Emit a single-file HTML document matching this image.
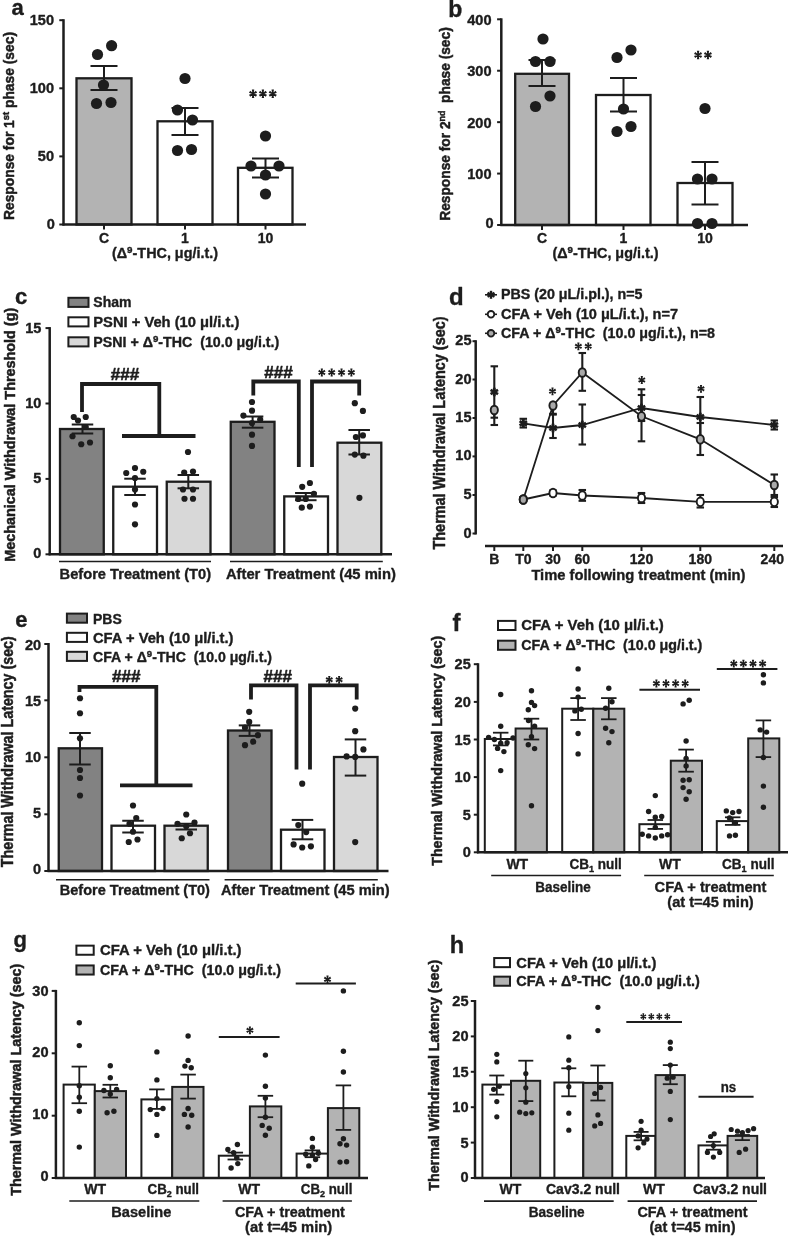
<!DOCTYPE html>
<html><head><meta charset="utf-8"><title>Figure</title>
<style>
html,body{margin:0;padding:0;background:#fff;}
svg{display:block;filter:grayscale(1);font-family:"Liberation Sans",sans-serif;fill:#1d1d1d;}
text{stroke:#1d1d1d;stroke-width:0.36px;stroke-linejoin:round;}
text.rt{stroke-width:0.5px;}
text.hs{stroke-width:0.6px;}
</style></head>
<body>
<svg width="788" height="1239" viewBox="0 0 788 1239">
<rect x="0" y="0" width="788" height="1239" fill="#ffffff"/>
<g>
<text x="11.5" y="14.5" font-size="22" text-anchor="start" font-weight="bold" >a</text>
<rect x="76.5" y="78.3" width="55.0" height="146.2" fill="#b1b3b6" stroke="#1d1d1d" stroke-width="2.3"/>
<rect x="157.5" y="121.3" width="55.0" height="103.2" fill="#fff" stroke="#1d1d1d" stroke-width="2.3"/>
<rect x="238" y="167.8" width="54.5" height="56.7" fill="#fff" stroke="#1d1d1d" stroke-width="2.3"/>
<line x1="63.5" y1="19.2" x2="63.5" y2="225.5" stroke="#1d1d1d" stroke-width="2.5" stroke-linecap="butt"/>
<line x1="62.5" y1="224.5" x2="306" y2="224.5" stroke="#1d1d1d" stroke-width="2.5" stroke-linecap="butt"/>
<line x1="59.3" y1="224.5" x2="63.5" y2="224.5" stroke="#1d1d1d" stroke-width="2" stroke-linecap="butt"/>
<text x="54.9" y="228.5" font-size="14" text-anchor="end" font-weight="bold" textLength="8.1" lengthAdjust="spacingAndGlyphs" >0</text>
<line x1="59.3" y1="156.4" x2="63.5" y2="156.4" stroke="#1d1d1d" stroke-width="2" stroke-linecap="butt"/>
<text x="54.0" y="161.4" font-size="14" text-anchor="end" font-weight="bold" textLength="16.2" lengthAdjust="spacingAndGlyphs" >50</text>
<line x1="59.3" y1="88.3" x2="63.5" y2="88.3" stroke="#1d1d1d" stroke-width="2" stroke-linecap="butt"/>
<text x="54.0" y="93.3" font-size="14" text-anchor="end" font-weight="bold" textLength="24.3" lengthAdjust="spacingAndGlyphs" >100</text>
<line x1="59.3" y1="20.2" x2="63.5" y2="20.2" stroke="#1d1d1d" stroke-width="2" stroke-linecap="butt"/>
<text x="54.0" y="25.2" font-size="14" text-anchor="end" font-weight="bold" textLength="24.3" lengthAdjust="spacingAndGlyphs" >150</text>
<line x1="104" y1="224.5" x2="104" y2="229.5" stroke="#1d1d1d" stroke-width="2" stroke-linecap="butt"/>
<text x="104" y="242.5" font-size="14" text-anchor="middle" font-weight="bold" >C</text>
<line x1="185" y1="224.5" x2="185" y2="229.5" stroke="#1d1d1d" stroke-width="2" stroke-linecap="butt"/>
<text x="185" y="242.5" font-size="14" text-anchor="middle" font-weight="bold" >1</text>
<line x1="265.5" y1="224.5" x2="265.5" y2="229.5" stroke="#1d1d1d" stroke-width="2" stroke-linecap="butt"/>
<text x="265.5" y="242.5" font-size="14" text-anchor="middle" font-weight="bold" >10</text>
<text x="165" y="258" font-size="14" text-anchor="middle" font-weight="bold" textLength="106" lengthAdjust="spacingAndGlyphs" >(Δ<tspan font-size="9.5" dy="-5">9</tspan><tspan dy="5">-THC, μg/i.t.)</tspan></text>
<text x="14.3" y="126" font-size="14" text-anchor="middle" font-weight="bold" class="rt" transform="rotate(-90 14.3 126)" textLength="188" lengthAdjust="spacingAndGlyphs" >Response for 1<tspan font-size="9.5" dy="-5">st</tspan><tspan dy="5"> phase (sec)</tspan></text>
<line x1="104" y1="66" x2="104" y2="90" stroke="#1d1d1d" stroke-width="2" stroke-linecap="butt"/>
<line x1="90.5" y1="66" x2="117.5" y2="66" stroke="#1d1d1d" stroke-width="2" stroke-linecap="butt"/>
<line x1="90.5" y1="90" x2="117.5" y2="90" stroke="#1d1d1d" stroke-width="2" stroke-linecap="butt"/>
<line x1="185" y1="108" x2="185" y2="135" stroke="#1d1d1d" stroke-width="2" stroke-linecap="butt"/>
<line x1="171.5" y1="108" x2="198.5" y2="108" stroke="#1d1d1d" stroke-width="2" stroke-linecap="butt"/>
<line x1="171.5" y1="135" x2="198.5" y2="135" stroke="#1d1d1d" stroke-width="2" stroke-linecap="butt"/>
<line x1="265.5" y1="158.5" x2="265.5" y2="177.5" stroke="#1d1d1d" stroke-width="2" stroke-linecap="butt"/>
<line x1="252.0" y1="158.5" x2="279.0" y2="158.5" stroke="#1d1d1d" stroke-width="2" stroke-linecap="butt"/>
<line x1="252.0" y1="177.5" x2="279.0" y2="177.5" stroke="#1d1d1d" stroke-width="2" stroke-linecap="butt"/>
<circle cx="97.5" cy="54.5" r="5.6" fill="#1d1d1d"/>
<circle cx="111.6" cy="45.7" r="5.6" fill="#1d1d1d"/>
<circle cx="103.5" cy="85" r="5.6" fill="#1d1d1d"/>
<circle cx="96.5" cy="103.5" r="5.6" fill="#1d1d1d"/>
<circle cx="111" cy="102.5" r="5.6" fill="#1d1d1d"/>
<circle cx="185" cy="78.5" r="5.6" fill="#1d1d1d"/>
<circle cx="177.5" cy="110" r="5.6" fill="#1d1d1d"/>
<circle cx="192.5" cy="120" r="5.6" fill="#1d1d1d"/>
<circle cx="177.5" cy="150.5" r="5.6" fill="#1d1d1d"/>
<circle cx="191.5" cy="149.5" r="5.6" fill="#1d1d1d"/>
<circle cx="265.5" cy="136" r="5.6" fill="#1d1d1d"/>
<circle cx="251" cy="166" r="5.6" fill="#1d1d1d"/>
<circle cx="279" cy="166" r="5.6" fill="#1d1d1d"/>
<circle cx="265.5" cy="175" r="5.6" fill="#1d1d1d"/>
<circle cx="265.5" cy="194" r="5.6" fill="#1d1d1d"/>
<path d="M252.5 93.8L251.85 98.05L254.25 98.05L253.6 93.8ZM253.6 93.8L254.25 89.55L251.85 89.55L252.5 93.8ZM252.78 94.28L255.91 96.84L257.11 94.76L253.33 93.32ZM252.78 93.32L248.99 94.76L250.19 96.84L253.33 94.28ZM253.33 93.32L250.19 90.76L248.99 92.84L252.78 94.28ZM253.33 94.28L257.11 92.84L255.91 90.76L252.78 93.32Z" fill="#1d1d1d"/>
<circle cx="253.05" cy="93.8" r="1.0" fill="#1d1d1d"/>
<path d="M262.35 93.8L261.7 98.05L264.1 98.05L263.45 93.8ZM263.45 93.8L264.1 89.55L261.7 89.55L262.35 93.8ZM262.62 94.28L265.76 96.84L266.96 94.76L263.17 93.32ZM262.62 93.32L258.84 94.76L260.04 96.84L263.17 94.28ZM263.17 93.32L260.04 90.76L258.84 92.84L262.62 94.28ZM263.17 94.28L266.96 92.84L265.76 90.76L262.62 93.32Z" fill="#1d1d1d"/>
<circle cx="262.9" cy="93.8" r="1.0" fill="#1d1d1d"/>
<path d="M272.2 93.8L271.55 98.05L273.95 98.05L273.3 93.8ZM273.3 93.8L273.95 89.55L271.55 89.55L272.2 93.8ZM272.48 94.28L275.61 96.84L276.81 94.76L273.02 93.32ZM272.48 93.32L268.69 94.76L269.89 96.84L273.02 94.28ZM273.02 93.32L269.89 90.76L268.69 92.84L272.48 94.28ZM273.02 94.28L276.81 92.84L275.61 90.76L272.48 93.32Z" fill="#1d1d1d"/>
<circle cx="272.75" cy="93.8" r="1.0" fill="#1d1d1d"/>
<text x="448.3" y="17" font-size="23" text-anchor="start" font-weight="bold" >b</text>
<rect x="515.2" y="73.8" width="53.8" height="151.2" fill="#b1b3b6" stroke="#1d1d1d" stroke-width="2.3"/>
<rect x="596" y="95" width="54.5" height="130" fill="#fff" stroke="#1d1d1d" stroke-width="2.3"/>
<rect x="677.5" y="183" width="55.0" height="42" fill="#fff" stroke="#1d1d1d" stroke-width="2.3"/>
<line x1="501.3" y1="18.3" x2="501.3" y2="226" stroke="#1d1d1d" stroke-width="2.5" stroke-linecap="butt"/>
<line x1="500.3" y1="225" x2="748" y2="225" stroke="#1d1d1d" stroke-width="2.5" stroke-linecap="butt"/>
<line x1="497.1" y1="225.0" x2="501.3" y2="225.0" stroke="#1d1d1d" stroke-width="2" stroke-linecap="butt"/>
<text x="493.7" y="227.7" font-size="14" text-anchor="end" font-weight="bold" textLength="8.1" lengthAdjust="spacingAndGlyphs" >0</text>
<line x1="497.1" y1="173.57" x2="501.3" y2="173.57" stroke="#1d1d1d" stroke-width="2" stroke-linecap="butt"/>
<text x="491.5" y="178.97" font-size="14" text-anchor="end" font-weight="bold" textLength="24.3" lengthAdjust="spacingAndGlyphs" >100</text>
<line x1="497.1" y1="122.15" x2="501.3" y2="122.15" stroke="#1d1d1d" stroke-width="2" stroke-linecap="butt"/>
<text x="491.5" y="127.55" font-size="14" text-anchor="end" font-weight="bold" textLength="24.3" lengthAdjust="spacingAndGlyphs" >200</text>
<line x1="497.1" y1="70.72" x2="501.3" y2="70.72" stroke="#1d1d1d" stroke-width="2" stroke-linecap="butt"/>
<text x="491.5" y="76.12" font-size="14" text-anchor="end" font-weight="bold" textLength="24.3" lengthAdjust="spacingAndGlyphs" >300</text>
<line x1="497.1" y1="19.3" x2="501.3" y2="19.3" stroke="#1d1d1d" stroke-width="2" stroke-linecap="butt"/>
<text x="491.5" y="24.7" font-size="14" text-anchor="end" font-weight="bold" textLength="24.3" lengthAdjust="spacingAndGlyphs" >400</text>
<line x1="542" y1="225" x2="542" y2="230" stroke="#1d1d1d" stroke-width="2" stroke-linecap="butt"/>
<text x="542" y="242.5" font-size="14" text-anchor="middle" font-weight="bold" >C</text>
<line x1="623.5" y1="225" x2="623.5" y2="230" stroke="#1d1d1d" stroke-width="2" stroke-linecap="butt"/>
<text x="623.5" y="242.5" font-size="14" text-anchor="middle" font-weight="bold" >1</text>
<line x1="705" y1="225" x2="705" y2="230" stroke="#1d1d1d" stroke-width="2" stroke-linecap="butt"/>
<text x="705" y="242.5" font-size="14" text-anchor="middle" font-weight="bold" >10</text>
<text x="605.5" y="258" font-size="14" text-anchor="middle" font-weight="bold" textLength="106" lengthAdjust="spacingAndGlyphs" >(Δ<tspan font-size="9.5" dy="-5">9</tspan><tspan dy="5">-THC, μg/i.t.)</tspan></text>
<text x="449.8" y="124" font-size="14.6" text-anchor="middle" font-weight="bold" class="rt" transform="rotate(-90 449.8 124)" textLength="193.5" lengthAdjust="spacingAndGlyphs" >Response for 2<tspan font-size="9.5" dy="-5">nd</tspan><tspan dy="5">  phase (sec)</tspan></text>
<line x1="542" y1="60" x2="542" y2="86" stroke="#1d1d1d" stroke-width="2" stroke-linecap="butt"/>
<line x1="528.5" y1="60" x2="555.5" y2="60" stroke="#1d1d1d" stroke-width="2" stroke-linecap="butt"/>
<line x1="528.5" y1="86" x2="555.5" y2="86" stroke="#1d1d1d" stroke-width="2" stroke-linecap="butt"/>
<line x1="623.5" y1="78" x2="623.5" y2="111.5" stroke="#1d1d1d" stroke-width="2" stroke-linecap="butt"/>
<line x1="610.0" y1="78" x2="637.0" y2="78" stroke="#1d1d1d" stroke-width="2" stroke-linecap="butt"/>
<line x1="610.0" y1="111.5" x2="637.0" y2="111.5" stroke="#1d1d1d" stroke-width="2" stroke-linecap="butt"/>
<line x1="705" y1="162" x2="705" y2="204.5" stroke="#1d1d1d" stroke-width="2" stroke-linecap="butt"/>
<line x1="691.5" y1="162" x2="718.5" y2="162" stroke="#1d1d1d" stroke-width="2" stroke-linecap="butt"/>
<line x1="691.5" y1="204.5" x2="718.5" y2="204.5" stroke="#1d1d1d" stroke-width="2" stroke-linecap="butt"/>
<circle cx="543" cy="39" r="5.6" fill="#1d1d1d"/>
<circle cx="535.5" cy="61.5" r="5.6" fill="#1d1d1d"/>
<circle cx="550" cy="61.5" r="5.6" fill="#1d1d1d"/>
<circle cx="550" cy="96" r="5.6" fill="#1d1d1d"/>
<circle cx="535.5" cy="106.5" r="5.6" fill="#1d1d1d"/>
<circle cx="631" cy="50" r="5.6" fill="#1d1d1d"/>
<circle cx="617" cy="57.5" r="5.6" fill="#1d1d1d"/>
<circle cx="623.5" cy="109" r="5.6" fill="#1d1d1d"/>
<circle cx="631" cy="126.5" r="5.6" fill="#1d1d1d"/>
<circle cx="617" cy="131.5" r="5.6" fill="#1d1d1d"/>
<circle cx="705" cy="108.5" r="5.6" fill="#1d1d1d"/>
<circle cx="697.5" cy="179" r="5.6" fill="#1d1d1d"/>
<circle cx="712" cy="179" r="5.6" fill="#1d1d1d"/>
<circle cx="697.5" cy="223.5" r="5.6" fill="#1d1d1d"/>
<circle cx="712" cy="223.5" r="5.6" fill="#1d1d1d"/>
<path d="M697.53 55.0L696.88 59.25L699.28 59.25L698.63 55.0ZM698.63 55.0L699.28 50.75L696.88 50.75L697.53 55.0ZM697.81 55.48L700.94 58.04L702.14 55.96L698.36 54.52ZM697.81 54.52L694.02 55.96L695.22 58.04L698.36 55.48ZM698.36 54.52L695.22 51.96L694.02 54.04L697.81 55.48ZM698.36 55.48L702.14 54.04L700.94 51.96L697.81 54.52Z" fill="#1d1d1d"/>
<circle cx="698.08" cy="55" r="1.0" fill="#1d1d1d"/>
<path d="M707.38 55.0L706.73 59.25L709.13 59.25L708.48 55.0ZM708.48 55.0L709.13 50.75L706.73 50.75L707.38 55.0ZM707.65 55.48L710.79 58.04L711.99 55.96L708.2 54.52ZM707.65 54.52L703.87 55.96L705.07 58.04L708.2 55.48ZM708.2 54.52L705.07 51.96L703.87 54.04L707.65 55.48ZM708.2 55.48L711.99 54.04L710.79 51.96L707.65 54.52Z" fill="#1d1d1d"/>
<circle cx="707.93" cy="55" r="1.0" fill="#1d1d1d"/>
<text x="15" y="304" font-size="22" text-anchor="start" font-weight="bold" >c</text>
<rect x="60" y="429" width="43.75" height="125.3" fill="#808285" stroke="#1d1d1d" stroke-width="2.3"/>
<rect x="113.25" y="486.7" width="43.75" height="67.6" fill="#fff" stroke="#1d1d1d" stroke-width="2.3"/>
<rect x="166.75" y="481.7" width="43.75" height="72.6" fill="#d7d8da" stroke="#1d1d1d" stroke-width="2.3"/>
<rect x="230.75" y="421.8" width="43.75" height="132.5" fill="#808285" stroke="#1d1d1d" stroke-width="2.3"/>
<rect x="284.25" y="496.4" width="43.75" height="57.9" fill="#fff" stroke="#1d1d1d" stroke-width="2.3"/>
<rect x="337.5" y="442.7" width="43.8" height="111.6" fill="#d7d8da" stroke="#1d1d1d" stroke-width="2.3"/>
<line x1="49.7" y1="327.1" x2="49.7" y2="555.3" stroke="#1d1d1d" stroke-width="2.5" stroke-linecap="butt"/>
<line x1="48.7" y1="554.3" x2="392" y2="554.3" stroke="#1d1d1d" stroke-width="2.5" stroke-linecap="butt"/>
<line x1="45.5" y1="554.3" x2="49.7" y2="554.3" stroke="#1d1d1d" stroke-width="2" stroke-linecap="butt"/>
<text x="41.4" y="558.1" font-size="14" text-anchor="end" font-weight="bold" textLength="8.1" lengthAdjust="spacingAndGlyphs" >0</text>
<line x1="45.5" y1="478.9" x2="49.7" y2="478.9" stroke="#1d1d1d" stroke-width="2" stroke-linecap="butt"/>
<text x="41.4" y="483.0" font-size="14" text-anchor="end" font-weight="bold" textLength="8.1" lengthAdjust="spacingAndGlyphs" >5</text>
<line x1="45.5" y1="403.5" x2="49.7" y2="403.5" stroke="#1d1d1d" stroke-width="2" stroke-linecap="butt"/>
<text x="41.4" y="407.9" font-size="14" text-anchor="end" font-weight="bold" textLength="16.2" lengthAdjust="spacingAndGlyphs" >10</text>
<line x1="45.5" y1="328.1" x2="49.7" y2="328.1" stroke="#1d1d1d" stroke-width="2" stroke-linecap="butt"/>
<text x="41.4" y="332.8" font-size="14" text-anchor="end" font-weight="bold" textLength="16.2" lengthAdjust="spacingAndGlyphs" >15</text>
<rect x="68.4" y="297.8" width="20.1" height="9.1" fill="#808285" stroke="#1d1d1d" stroke-width="2"/>
<text x="93.3" y="307" font-size="14" text-anchor="start" font-weight="bold" >Sham</text>
<rect x="68.4" y="317.3" width="20.1" height="9.1" fill="#fff" stroke="#1d1d1d" stroke-width="2"/>
<text x="93.3" y="326.5" font-size="14" text-anchor="start" font-weight="bold" textLength="146" lengthAdjust="spacingAndGlyphs" >PSNI + Veh (10 μl/i.t.)</text>
<rect x="68.4" y="337.3" width="20.1" height="9.1" fill="#d7d8da" stroke="#1d1d1d" stroke-width="2"/>
<text x="93.3" y="346.5" font-size="14" text-anchor="start" font-weight="bold" textLength="186" lengthAdjust="spacingAndGlyphs" >PSNI + Δ<tspan font-size="9.5" dy="-5">9</tspan><tspan dy="5">-THC  (10.0 μg/i.t.)</tspan></text>
<line x1="82.5" y1="424.5" x2="82.5" y2="433.5" stroke="#1d1d1d" stroke-width="2" stroke-linecap="butt"/>
<line x1="71.75" y1="424.5" x2="93.25" y2="424.5" stroke="#1d1d1d" stroke-width="2" stroke-linecap="butt"/>
<line x1="71.75" y1="433.5" x2="93.25" y2="433.5" stroke="#1d1d1d" stroke-width="2" stroke-linecap="butt"/>
<line x1="135" y1="478.7" x2="135" y2="495" stroke="#1d1d1d" stroke-width="2" stroke-linecap="butt"/>
<line x1="124.25" y1="478.7" x2="145.75" y2="478.7" stroke="#1d1d1d" stroke-width="2" stroke-linecap="butt"/>
<line x1="124.25" y1="495" x2="145.75" y2="495" stroke="#1d1d1d" stroke-width="2" stroke-linecap="butt"/>
<line x1="188.3" y1="475" x2="188.3" y2="488.3" stroke="#1d1d1d" stroke-width="2" stroke-linecap="butt"/>
<line x1="177.55" y1="475" x2="199.05" y2="475" stroke="#1d1d1d" stroke-width="2" stroke-linecap="butt"/>
<line x1="177.55" y1="488.3" x2="199.05" y2="488.3" stroke="#1d1d1d" stroke-width="2" stroke-linecap="butt"/>
<line x1="252.6" y1="416.5" x2="252.6" y2="427.7" stroke="#1d1d1d" stroke-width="2" stroke-linecap="butt"/>
<line x1="241.85" y1="416.5" x2="263.35" y2="416.5" stroke="#1d1d1d" stroke-width="2" stroke-linecap="butt"/>
<line x1="241.85" y1="427.7" x2="263.35" y2="427.7" stroke="#1d1d1d" stroke-width="2" stroke-linecap="butt"/>
<line x1="305.8" y1="493" x2="305.8" y2="500.2" stroke="#1d1d1d" stroke-width="2" stroke-linecap="butt"/>
<line x1="295.05" y1="493" x2="316.55" y2="493" stroke="#1d1d1d" stroke-width="2" stroke-linecap="butt"/>
<line x1="295.05" y1="500.2" x2="316.55" y2="500.2" stroke="#1d1d1d" stroke-width="2" stroke-linecap="butt"/>
<line x1="359.2" y1="430" x2="359.2" y2="454.5" stroke="#1d1d1d" stroke-width="2" stroke-linecap="butt"/>
<line x1="348.45" y1="430" x2="369.95" y2="430" stroke="#1d1d1d" stroke-width="2" stroke-linecap="butt"/>
<line x1="348.45" y1="454.5" x2="369.95" y2="454.5" stroke="#1d1d1d" stroke-width="2" stroke-linecap="butt"/>
<circle cx="73.75" cy="417" r="3.1" fill="#1d1d1d"/>
<circle cx="85.75" cy="417" r="3.1" fill="#1d1d1d"/>
<circle cx="78" cy="420.5" r="3.1" fill="#1d1d1d"/>
<circle cx="72.5" cy="436.25" r="3.1" fill="#1d1d1d"/>
<circle cx="85.75" cy="427" r="3.1" fill="#1d1d1d"/>
<circle cx="81.25" cy="444.25" r="3.1" fill="#1d1d1d"/>
<circle cx="90" cy="442.5" r="3.1" fill="#1d1d1d"/>
<circle cx="126.25" cy="473" r="3.1" fill="#1d1d1d"/>
<circle cx="135" cy="468" r="3.1" fill="#1d1d1d"/>
<circle cx="143.25" cy="471.75" r="3.1" fill="#1d1d1d"/>
<circle cx="135" cy="478" r="3.1" fill="#1d1d1d"/>
<circle cx="135" cy="489.5" r="3.1" fill="#1d1d1d"/>
<circle cx="135" cy="504.5" r="3.1" fill="#1d1d1d"/>
<circle cx="135" cy="524.3" r="3.1" fill="#1d1d1d"/>
<circle cx="188" cy="452" r="3.1" fill="#1d1d1d"/>
<circle cx="184.2" cy="472.5" r="3.1" fill="#1d1d1d"/>
<circle cx="193" cy="471.5" r="3.1" fill="#1d1d1d"/>
<circle cx="183" cy="489.5" r="3.1" fill="#1d1d1d"/>
<circle cx="193" cy="489.5" r="3.1" fill="#1d1d1d"/>
<circle cx="184.5" cy="498.75" r="3.1" fill="#1d1d1d"/>
<circle cx="193" cy="498.75" r="3.1" fill="#1d1d1d"/>
<circle cx="252" cy="402" r="3.1" fill="#1d1d1d"/>
<circle cx="252" cy="410.7" r="3.1" fill="#1d1d1d"/>
<circle cx="243.4" cy="415.6" r="3.1" fill="#1d1d1d"/>
<circle cx="260.2" cy="419.5" r="3.1" fill="#1d1d1d"/>
<circle cx="252" cy="423" r="3.1" fill="#1d1d1d"/>
<circle cx="252" cy="434.7" r="3.1" fill="#1d1d1d"/>
<circle cx="252" cy="445.9" r="3.1" fill="#1d1d1d"/>
<circle cx="302.2" cy="486.8" r="3.1" fill="#1d1d1d"/>
<circle cx="309.9" cy="483" r="3.1" fill="#1d1d1d"/>
<circle cx="313.9" cy="493.8" r="3.1" fill="#1d1d1d"/>
<circle cx="298.3" cy="498.9" r="3.1" fill="#1d1d1d"/>
<circle cx="305.7" cy="498.9" r="3.1" fill="#1d1d1d"/>
<circle cx="301.8" cy="507.6" r="3.1" fill="#1d1d1d"/>
<circle cx="309.9" cy="506.6" r="3.1" fill="#1d1d1d"/>
<circle cx="354.8" cy="403.2" r="3.1" fill="#1d1d1d"/>
<circle cx="362.9" cy="410.9" r="3.1" fill="#1d1d1d"/>
<circle cx="362.9" cy="435.4" r="3.1" fill="#1d1d1d"/>
<circle cx="355.9" cy="437" r="3.1" fill="#1d1d1d"/>
<circle cx="354.8" cy="454.6" r="3.1" fill="#1d1d1d"/>
<circle cx="363.4" cy="455.7" r="3.1" fill="#1d1d1d"/>
<circle cx="359.4" cy="497.8" r="3.1" fill="#1d1d1d"/>
<path d="M82 412 V384 H159.3 V436" fill="none" stroke="#1d1d1d" stroke-width="3.8" stroke-linejoin="miter" stroke-linecap="butt"/>
<line x1="122" y1="436" x2="195.5" y2="436" stroke="#1d1d1d" stroke-width="3.8" stroke-linecap="butt"/>
<path d="M253.3 395.5 V381.5 H298.8 V467" fill="none" stroke="#1d1d1d" stroke-width="3.8" stroke-linejoin="miter" stroke-linecap="butt"/>
<path d="M312 467 V381.5 H359.2 V395.5" fill="none" stroke="#1d1d1d" stroke-width="3.8" stroke-linejoin="miter" stroke-linecap="butt"/>
<text x="125" y="380" font-size="17" text-anchor="middle" font-weight="bold" textLength="28.5" lengthAdjust="spacingAndGlyphs" class="hs">###</text>
<text x="278.4" y="378" font-size="17" text-anchor="middle" font-weight="bold" textLength="28.5" lengthAdjust="spacingAndGlyphs" class="hs">###</text>
<path d="M321.32 372.5L320.73 376.41L322.93 376.41L322.34 372.5ZM322.34 372.5L322.93 368.59L320.73 368.59L321.32 372.5ZM321.58 372.94L324.46 375.3L325.57 373.38L322.08 372.06ZM321.58 372.06L318.09 373.38L319.2 375.3L322.08 372.94ZM322.08 372.06L319.2 369.7L318.09 371.62L321.58 372.94ZM322.08 372.94L325.57 371.62L324.46 369.7L321.58 372.06Z" fill="#1d1d1d"/>
<circle cx="321.83" cy="372.5" r="0.92" fill="#1d1d1d"/>
<path d="M331.17 372.5L330.58 376.41L332.78 376.41L332.19 372.5ZM332.19 372.5L332.78 368.59L330.58 368.59L331.17 372.5ZM331.43 372.94L334.31 375.3L335.42 373.38L331.93 372.06ZM331.43 372.06L327.94 373.38L329.05 375.3L331.93 372.94ZM331.93 372.06L329.05 369.7L327.94 371.62L331.43 372.94ZM331.93 372.94L335.42 371.62L334.31 369.7L331.43 372.06Z" fill="#1d1d1d"/>
<circle cx="331.68" cy="372.5" r="0.92" fill="#1d1d1d"/>
<path d="M341.02 372.5L340.43 376.41L342.63 376.41L342.04 372.5ZM342.04 372.5L342.63 368.59L340.43 368.59L341.02 372.5ZM341.28 372.94L344.16 375.3L345.27 373.38L341.78 372.06ZM341.28 372.06L337.79 373.38L338.9 375.3L341.78 372.94ZM341.78 372.06L338.9 369.7L337.79 371.62L341.28 372.94ZM341.78 372.94L345.27 371.62L344.16 369.7L341.28 372.06Z" fill="#1d1d1d"/>
<circle cx="341.53" cy="372.5" r="0.92" fill="#1d1d1d"/>
<path d="M350.87 372.5L350.28 376.41L352.48 376.41L351.89 372.5ZM351.89 372.5L352.48 368.59L350.28 368.59L350.87 372.5ZM351.13 372.94L354.01 375.3L355.12 373.38L351.63 372.06ZM351.13 372.06L347.64 373.38L348.75 375.3L351.63 372.94ZM351.63 372.06L348.75 369.7L347.64 371.62L351.13 372.94ZM351.63 372.94L355.12 371.62L354.01 369.7L351.13 372.06Z" fill="#1d1d1d"/>
<circle cx="351.38" cy="372.5" r="0.92" fill="#1d1d1d"/>
<text x="135.35" y="578.5" font-size="14.6" text-anchor="middle" font-weight="bold" textLength="151.5" lengthAdjust="spacingAndGlyphs" >Before Treatment (T0)</text>
<text x="310.9" y="578.5" font-size="14.6" text-anchor="middle" font-weight="bold" textLength="170" lengthAdjust="spacingAndGlyphs" >After Treatment (45 min)</text>
<line x1="59" y1="561.6" x2="211" y2="561.6" stroke="#1d1d1d" stroke-width="1.5" stroke-linecap="butt"/>
<line x1="230" y1="561.6" x2="382.8" y2="561.6" stroke="#1d1d1d" stroke-width="1.5" stroke-linecap="butt"/>
<text x="15" y="434.75" font-size="14" text-anchor="middle" font-weight="bold" class="rt" transform="rotate(-90 15 434.75)" textLength="254" lengthAdjust="spacingAndGlyphs" >Mechanical Withdrawal Threshold (g)</text>
<text x="449" y="305" font-size="24" text-anchor="start" font-weight="bold" >d</text>
<line x1="475.7" y1="340.2" x2="475.7" y2="534.5" stroke="#1d1d1d" stroke-width="2.5" stroke-linecap="butt"/>
<line x1="472.5" y1="533.5" x2="475.7" y2="533.5" stroke="#1d1d1d" stroke-width="2" stroke-linecap="butt"/>
<text x="471.5" y="537.5" font-size="14" text-anchor="end" font-weight="bold" textLength="8.1" lengthAdjust="spacingAndGlyphs" >0</text>
<line x1="472.5" y1="495" x2="475.7" y2="495" stroke="#1d1d1d" stroke-width="2" stroke-linecap="butt"/>
<text x="471.5" y="499" font-size="14" text-anchor="end" font-weight="bold" textLength="8.1" lengthAdjust="spacingAndGlyphs" >5</text>
<line x1="472.5" y1="456.4" x2="475.7" y2="456.4" stroke="#1d1d1d" stroke-width="2" stroke-linecap="butt"/>
<text x="471.5" y="460.4" font-size="14" text-anchor="end" font-weight="bold" textLength="16.2" lengthAdjust="spacingAndGlyphs" >10</text>
<line x1="472.5" y1="418" x2="475.7" y2="418" stroke="#1d1d1d" stroke-width="2" stroke-linecap="butt"/>
<text x="471.5" y="422" font-size="14" text-anchor="end" font-weight="bold" textLength="16.2" lengthAdjust="spacingAndGlyphs" >15</text>
<line x1="472.5" y1="379.5" x2="475.7" y2="379.5" stroke="#1d1d1d" stroke-width="2" stroke-linecap="butt"/>
<text x="471.5" y="383.5" font-size="14" text-anchor="end" font-weight="bold" textLength="16.2" lengthAdjust="spacingAndGlyphs" >20</text>
<line x1="472.5" y1="341.2" x2="475.7" y2="341.2" stroke="#1d1d1d" stroke-width="2" stroke-linecap="butt"/>
<text x="471.5" y="345.2" font-size="14" text-anchor="end" font-weight="bold" textLength="16.2" lengthAdjust="spacingAndGlyphs" >25</text>
<line x1="485" y1="546" x2="783" y2="546" stroke="#1d1d1d" stroke-width="2.5" stroke-linecap="butt"/>
<line x1="494.3" y1="546" x2="494.3" y2="551" stroke="#1d1d1d" stroke-width="2" stroke-linecap="butt"/>
<text x="494.3" y="563.5" font-size="14" text-anchor="middle" font-weight="bold" >B</text>
<line x1="523.3" y1="546" x2="523.3" y2="551" stroke="#1d1d1d" stroke-width="2" stroke-linecap="butt"/>
<text x="523.3" y="563.5" font-size="14" text-anchor="middle" font-weight="bold" >T0</text>
<line x1="553" y1="546" x2="553" y2="551" stroke="#1d1d1d" stroke-width="2" stroke-linecap="butt"/>
<text x="553" y="563.5" font-size="14" text-anchor="middle" font-weight="bold" >30</text>
<line x1="582.3" y1="546" x2="582.3" y2="551" stroke="#1d1d1d" stroke-width="2" stroke-linecap="butt"/>
<text x="582.3" y="563.5" font-size="14" text-anchor="middle" font-weight="bold" >60</text>
<line x1="641.5" y1="546" x2="641.5" y2="551" stroke="#1d1d1d" stroke-width="2" stroke-linecap="butt"/>
<text x="641.5" y="563.5" font-size="14" text-anchor="middle" font-weight="bold" >120</text>
<line x1="700.3" y1="546" x2="700.3" y2="551" stroke="#1d1d1d" stroke-width="2" stroke-linecap="butt"/>
<text x="700.3" y="563.5" font-size="14" text-anchor="middle" font-weight="bold" >180</text>
<line x1="774.3" y1="546" x2="774.3" y2="551" stroke="#1d1d1d" stroke-width="2" stroke-linecap="butt"/>
<text x="772.3" y="563.5" font-size="14" text-anchor="middle" font-weight="bold" >240</text>
<text x="638.4" y="580" font-size="14" text-anchor="middle" font-weight="bold" textLength="214" lengthAdjust="spacingAndGlyphs" >Time following treatment (min)</text>
<text x="444.5" y="433" font-size="16" text-anchor="middle" font-weight="bold" class="rt" transform="rotate(-90 444.5 433)" textLength="233" lengthAdjust="spacingAndGlyphs" >Thermal Withdrawal Latency (sec)</text>
<line x1="485" y1="294.8" x2="497" y2="294.8" stroke="#1d1d1d" stroke-width="1.6" stroke-linecap="butt"/>
<line x1="485" y1="314.3" x2="497" y2="314.3" stroke="#1d1d1d" stroke-width="1.6" stroke-linecap="butt"/>
<line x1="485" y1="333.3" x2="497" y2="333.3" stroke="#1d1d1d" stroke-width="1.6" stroke-linecap="butt"/>
<line x1="491.0" y1="290.8" x2="491.0" y2="298.8" stroke="#1d1d1d" stroke-width="2.4" stroke-linecap="butt"/>
<line x1="487.54" y1="292.8" x2="494.46" y2="296.8" stroke="#1d1d1d" stroke-width="2.4" stroke-linecap="butt"/>
<line x1="494.46" y1="292.8" x2="487.54" y2="296.8" stroke="#1d1d1d" stroke-width="2.4" stroke-linecap="butt"/>
<circle cx="491" cy="314.3" r="3.3" fill="#fff" stroke="#1d1d1d" stroke-width="1.8"/>
<circle cx="491" cy="333.3" r="3.3" fill="#a7a9ac" stroke="#1d1d1d" stroke-width="1.8"/>
<text x="501" y="299" font-size="14" text-anchor="start" font-weight="bold" textLength="141.5" lengthAdjust="spacingAndGlyphs" >PBS (20 μL/i.pl.), n=5</text>
<text x="501" y="319" font-size="14" text-anchor="start" font-weight="bold" textLength="177" lengthAdjust="spacingAndGlyphs" >CFA + Veh (10 μL/i.t.), n=7</text>
<text x="501" y="337.5" font-size="14" text-anchor="start" font-weight="bold" textLength="214" lengthAdjust="spacingAndGlyphs" >CFA + Δ<tspan font-size="9.5" dy="-5">9</tspan><tspan dy="5">-THC  (10.0 μg/i.t.), n=8</tspan></text>
<polyline points="523.3,423.3 553,428 582.3,425 641.5,408 700.3,417 774.3,425" fill="none" stroke="#1d1d1d" stroke-width="1.8"/>
<polyline points="523.3,499.5 553,493 582.3,495.5 641.5,498 700.3,501.8 774.3,501.8" fill="none" stroke="#1d1d1d" stroke-width="1.8"/>
<polyline points="523.3,499.5 553,405.5 582.3,372.5 641.5,416.3 700.3,439.3 774.3,485" fill="none" stroke="#1d1d1d" stroke-width="1.8"/>
<line x1="494.3" y1="366.3" x2="494.3" y2="425" stroke="#1d1d1d" stroke-width="2.1" stroke-linecap="butt"/>
<line x1="490.55" y1="366.3" x2="498.05" y2="366.3" stroke="#1d1d1d" stroke-width="2.1" stroke-linecap="butt"/>
<line x1="490.55" y1="425" x2="498.05" y2="425" stroke="#1d1d1d" stroke-width="2.1" stroke-linecap="butt"/>
<line x1="523.3" y1="418.8" x2="523.3" y2="427.5" stroke="#1d1d1d" stroke-width="2.1" stroke-linecap="butt"/>
<line x1="519.55" y1="418.8" x2="527.05" y2="418.8" stroke="#1d1d1d" stroke-width="2.1" stroke-linecap="butt"/>
<line x1="519.55" y1="427.5" x2="527.05" y2="427.5" stroke="#1d1d1d" stroke-width="2.1" stroke-linecap="butt"/>
<line x1="553" y1="413.8" x2="553" y2="438" stroke="#1d1d1d" stroke-width="2.1" stroke-linecap="butt"/>
<line x1="549.25" y1="413.8" x2="556.75" y2="413.8" stroke="#1d1d1d" stroke-width="2.1" stroke-linecap="butt"/>
<line x1="549.25" y1="438" x2="556.75" y2="438" stroke="#1d1d1d" stroke-width="2.1" stroke-linecap="butt"/>
<line x1="582.3" y1="404.5" x2="582.3" y2="444.5" stroke="#1d1d1d" stroke-width="2.1" stroke-linecap="butt"/>
<line x1="578.55" y1="404.5" x2="586.05" y2="404.5" stroke="#1d1d1d" stroke-width="2.1" stroke-linecap="butt"/>
<line x1="578.55" y1="444.5" x2="586.05" y2="444.5" stroke="#1d1d1d" stroke-width="2.1" stroke-linecap="butt"/>
<line x1="641.5" y1="395" x2="641.5" y2="421" stroke="#1d1d1d" stroke-width="2.1" stroke-linecap="butt"/>
<line x1="637.75" y1="395" x2="645.25" y2="395" stroke="#1d1d1d" stroke-width="2.1" stroke-linecap="butt"/>
<line x1="637.75" y1="421" x2="645.25" y2="421" stroke="#1d1d1d" stroke-width="2.1" stroke-linecap="butt"/>
<line x1="700.3" y1="397" x2="700.3" y2="437" stroke="#1d1d1d" stroke-width="2.1" stroke-linecap="butt"/>
<line x1="696.55" y1="397" x2="704.05" y2="397" stroke="#1d1d1d" stroke-width="2.1" stroke-linecap="butt"/>
<line x1="696.55" y1="437" x2="704.05" y2="437" stroke="#1d1d1d" stroke-width="2.1" stroke-linecap="butt"/>
<line x1="774.3" y1="420.5" x2="774.3" y2="429.5" stroke="#1d1d1d" stroke-width="2.1" stroke-linecap="butt"/>
<line x1="770.55" y1="420.5" x2="778.05" y2="420.5" stroke="#1d1d1d" stroke-width="2.1" stroke-linecap="butt"/>
<line x1="770.55" y1="429.5" x2="778.05" y2="429.5" stroke="#1d1d1d" stroke-width="2.1" stroke-linecap="butt"/>
<line x1="523.3" y1="497" x2="523.3" y2="502" stroke="#1d1d1d" stroke-width="2.1" stroke-linecap="butt"/>
<line x1="519.55" y1="497" x2="527.05" y2="497" stroke="#1d1d1d" stroke-width="2.1" stroke-linecap="butt"/>
<line x1="519.55" y1="502" x2="527.05" y2="502" stroke="#1d1d1d" stroke-width="2.1" stroke-linecap="butt"/>
<line x1="553" y1="490.5" x2="553" y2="495.5" stroke="#1d1d1d" stroke-width="2.1" stroke-linecap="butt"/>
<line x1="549.25" y1="490.5" x2="556.75" y2="490.5" stroke="#1d1d1d" stroke-width="2.1" stroke-linecap="butt"/>
<line x1="549.25" y1="495.5" x2="556.75" y2="495.5" stroke="#1d1d1d" stroke-width="2.1" stroke-linecap="butt"/>
<line x1="582.3" y1="490" x2="582.3" y2="500.8" stroke="#1d1d1d" stroke-width="2.1" stroke-linecap="butt"/>
<line x1="578.55" y1="490" x2="586.05" y2="490" stroke="#1d1d1d" stroke-width="2.1" stroke-linecap="butt"/>
<line x1="578.55" y1="500.8" x2="586.05" y2="500.8" stroke="#1d1d1d" stroke-width="2.1" stroke-linecap="butt"/>
<line x1="641.5" y1="493" x2="641.5" y2="503" stroke="#1d1d1d" stroke-width="2.1" stroke-linecap="butt"/>
<line x1="637.75" y1="493" x2="645.25" y2="493" stroke="#1d1d1d" stroke-width="2.1" stroke-linecap="butt"/>
<line x1="637.75" y1="503" x2="645.25" y2="503" stroke="#1d1d1d" stroke-width="2.1" stroke-linecap="butt"/>
<line x1="700.3" y1="495" x2="700.3" y2="507.5" stroke="#1d1d1d" stroke-width="2.1" stroke-linecap="butt"/>
<line x1="696.55" y1="495" x2="704.05" y2="495" stroke="#1d1d1d" stroke-width="2.1" stroke-linecap="butt"/>
<line x1="696.55" y1="507.5" x2="704.05" y2="507.5" stroke="#1d1d1d" stroke-width="2.1" stroke-linecap="butt"/>
<line x1="774.3" y1="497" x2="774.3" y2="507" stroke="#1d1d1d" stroke-width="2.1" stroke-linecap="butt"/>
<line x1="770.55" y1="497" x2="778.05" y2="497" stroke="#1d1d1d" stroke-width="2.1" stroke-linecap="butt"/>
<line x1="770.55" y1="507" x2="778.05" y2="507" stroke="#1d1d1d" stroke-width="2.1" stroke-linecap="butt"/>
<line x1="494.3" y1="410" x2="494.3" y2="417.7" stroke="#1d1d1d" stroke-width="2.1" stroke-linecap="butt"/>
<line x1="490.55" y1="410" x2="498.05" y2="410" stroke="#1d1d1d" stroke-width="2.1" stroke-linecap="butt"/>
<line x1="490.55" y1="417.7" x2="498.05" y2="417.7" stroke="#1d1d1d" stroke-width="2.1" stroke-linecap="butt"/>
<line x1="523.3" y1="497" x2="523.3" y2="502" stroke="#1d1d1d" stroke-width="2.1" stroke-linecap="butt"/>
<line x1="519.55" y1="497" x2="527.05" y2="497" stroke="#1d1d1d" stroke-width="2.1" stroke-linecap="butt"/>
<line x1="519.55" y1="502" x2="527.05" y2="502" stroke="#1d1d1d" stroke-width="2.1" stroke-linecap="butt"/>
<line x1="553" y1="405.5" x2="553" y2="414.6" stroke="#1d1d1d" stroke-width="2.1" stroke-linecap="butt"/>
<line x1="549.25" y1="405.5" x2="556.75" y2="405.5" stroke="#1d1d1d" stroke-width="2.1" stroke-linecap="butt"/>
<line x1="549.25" y1="414.6" x2="556.75" y2="414.6" stroke="#1d1d1d" stroke-width="2.1" stroke-linecap="butt"/>
<line x1="582.3" y1="353" x2="582.3" y2="390.8" stroke="#1d1d1d" stroke-width="2.1" stroke-linecap="butt"/>
<line x1="578.55" y1="353" x2="586.05" y2="353" stroke="#1d1d1d" stroke-width="2.1" stroke-linecap="butt"/>
<line x1="578.55" y1="390.8" x2="586.05" y2="390.8" stroke="#1d1d1d" stroke-width="2.1" stroke-linecap="butt"/>
<line x1="641.5" y1="389.3" x2="641.5" y2="441.3" stroke="#1d1d1d" stroke-width="2.1" stroke-linecap="butt"/>
<line x1="637.75" y1="389.3" x2="645.25" y2="389.3" stroke="#1d1d1d" stroke-width="2.1" stroke-linecap="butt"/>
<line x1="637.75" y1="441.3" x2="645.25" y2="441.3" stroke="#1d1d1d" stroke-width="2.1" stroke-linecap="butt"/>
<line x1="700.3" y1="423" x2="700.3" y2="455" stroke="#1d1d1d" stroke-width="2.1" stroke-linecap="butt"/>
<line x1="696.55" y1="423" x2="704.05" y2="423" stroke="#1d1d1d" stroke-width="2.1" stroke-linecap="butt"/>
<line x1="696.55" y1="455" x2="704.05" y2="455" stroke="#1d1d1d" stroke-width="2.1" stroke-linecap="butt"/>
<line x1="774.3" y1="474.5" x2="774.3" y2="495" stroke="#1d1d1d" stroke-width="2.1" stroke-linecap="butt"/>
<line x1="770.55" y1="474.5" x2="778.05" y2="474.5" stroke="#1d1d1d" stroke-width="2.1" stroke-linecap="butt"/>
<line x1="770.55" y1="495" x2="778.05" y2="495" stroke="#1d1d1d" stroke-width="2.1" stroke-linecap="butt"/>
<line x1="494.3" y1="387.7" x2="494.3" y2="396.3" stroke="#1d1d1d" stroke-width="2.8" stroke-linecap="butt"/>
<line x1="490.58" y1="389.85" x2="498.02" y2="394.15" stroke="#1d1d1d" stroke-width="2.8" stroke-linecap="butt"/>
<line x1="498.02" y1="389.85" x2="490.58" y2="394.15" stroke="#1d1d1d" stroke-width="2.8" stroke-linecap="butt"/>
<line x1="523.3" y1="419.0" x2="523.3" y2="427.6" stroke="#1d1d1d" stroke-width="2.8" stroke-linecap="butt"/>
<line x1="519.58" y1="421.15" x2="527.02" y2="425.45" stroke="#1d1d1d" stroke-width="2.8" stroke-linecap="butt"/>
<line x1="527.02" y1="421.15" x2="519.58" y2="425.45" stroke="#1d1d1d" stroke-width="2.8" stroke-linecap="butt"/>
<line x1="553.0" y1="423.7" x2="553.0" y2="432.3" stroke="#1d1d1d" stroke-width="2.8" stroke-linecap="butt"/>
<line x1="549.28" y1="425.85" x2="556.72" y2="430.15" stroke="#1d1d1d" stroke-width="2.8" stroke-linecap="butt"/>
<line x1="556.72" y1="425.85" x2="549.28" y2="430.15" stroke="#1d1d1d" stroke-width="2.8" stroke-linecap="butt"/>
<line x1="582.3" y1="420.7" x2="582.3" y2="429.3" stroke="#1d1d1d" stroke-width="2.8" stroke-linecap="butt"/>
<line x1="578.58" y1="422.85" x2="586.02" y2="427.15" stroke="#1d1d1d" stroke-width="2.8" stroke-linecap="butt"/>
<line x1="586.02" y1="422.85" x2="578.58" y2="427.15" stroke="#1d1d1d" stroke-width="2.8" stroke-linecap="butt"/>
<line x1="641.5" y1="403.7" x2="641.5" y2="412.3" stroke="#1d1d1d" stroke-width="2.8" stroke-linecap="butt"/>
<line x1="637.78" y1="405.85" x2="645.22" y2="410.15" stroke="#1d1d1d" stroke-width="2.8" stroke-linecap="butt"/>
<line x1="645.22" y1="405.85" x2="637.78" y2="410.15" stroke="#1d1d1d" stroke-width="2.8" stroke-linecap="butt"/>
<line x1="700.3" y1="412.7" x2="700.3" y2="421.3" stroke="#1d1d1d" stroke-width="2.8" stroke-linecap="butt"/>
<line x1="696.58" y1="414.85" x2="704.02" y2="419.15" stroke="#1d1d1d" stroke-width="2.8" stroke-linecap="butt"/>
<line x1="704.02" y1="414.85" x2="696.58" y2="419.15" stroke="#1d1d1d" stroke-width="2.8" stroke-linecap="butt"/>
<line x1="774.3" y1="420.7" x2="774.3" y2="429.3" stroke="#1d1d1d" stroke-width="2.8" stroke-linecap="butt"/>
<line x1="770.58" y1="422.85" x2="778.02" y2="427.15" stroke="#1d1d1d" stroke-width="2.8" stroke-linecap="butt"/>
<line x1="778.02" y1="422.85" x2="770.58" y2="427.15" stroke="#1d1d1d" stroke-width="2.8" stroke-linecap="butt"/>
<ellipse cx="523.3" cy="499.5" rx="3.6" ry="4.3" fill="#fff" stroke="#1d1d1d" stroke-width="1.9"/>
<ellipse cx="553" cy="493" rx="3.6" ry="4.3" fill="#fff" stroke="#1d1d1d" stroke-width="1.9"/>
<ellipse cx="582.3" cy="495.5" rx="3.6" ry="4.3" fill="#fff" stroke="#1d1d1d" stroke-width="1.9"/>
<ellipse cx="641.5" cy="498" rx="3.6" ry="4.3" fill="#fff" stroke="#1d1d1d" stroke-width="1.9"/>
<ellipse cx="700.3" cy="501.8" rx="3.6" ry="4.3" fill="#fff" stroke="#1d1d1d" stroke-width="1.9"/>
<ellipse cx="774.3" cy="501.8" rx="3.6" ry="4.3" fill="#fff" stroke="#1d1d1d" stroke-width="1.9"/>
<ellipse cx="494.3" cy="410" rx="3.6" ry="4.3" fill="#a7a9ac" stroke="#1d1d1d" stroke-width="1.9"/>
<ellipse cx="523.3" cy="499.5" rx="3.6" ry="4.3" fill="#a7a9ac" stroke="#1d1d1d" stroke-width="1.9"/>
<ellipse cx="553" cy="405.5" rx="3.6" ry="4.3" fill="#a7a9ac" stroke="#1d1d1d" stroke-width="1.9"/>
<ellipse cx="582.3" cy="372.5" rx="3.6" ry="4.3" fill="#a7a9ac" stroke="#1d1d1d" stroke-width="1.9"/>
<ellipse cx="641.5" cy="416.3" rx="3.6" ry="4.3" fill="#a7a9ac" stroke="#1d1d1d" stroke-width="1.9"/>
<ellipse cx="700.3" cy="439.3" rx="3.6" ry="4.3" fill="#a7a9ac" stroke="#1d1d1d" stroke-width="1.9"/>
<ellipse cx="774.3" cy="485" rx="3.6" ry="4.3" fill="#a7a9ac" stroke="#1d1d1d" stroke-width="1.9"/>
<path d="M551.99 391.3L551.4 395.21L553.6 395.21L553.01 391.3ZM553.01 391.3L553.6 387.39L551.4 387.39L551.99 391.3ZM552.25 391.74L555.13 394.1L556.24 392.18L552.75 390.86ZM552.25 390.86L548.76 392.18L549.87 394.1L552.75 391.74ZM552.75 390.86L549.87 388.5L548.76 390.42L552.25 391.74ZM552.75 391.74L556.24 390.42L555.13 388.5L552.25 390.86Z" fill="#1d1d1d"/>
<circle cx="552.5" cy="391.3" r="0.92" fill="#1d1d1d"/>
<path d="M577.87 346.3L577.28 350.21L579.48 350.21L578.89 346.3ZM578.89 346.3L579.48 342.39L577.28 342.39L577.87 346.3ZM578.13 346.74L581.01 349.1L582.12 347.18L578.63 345.86ZM578.13 345.86L574.64 347.18L575.75 349.1L578.63 346.74ZM578.63 345.86L575.75 343.5L574.64 345.42L578.13 346.74ZM578.63 346.74L582.12 345.42L581.01 343.5L578.13 345.86Z" fill="#1d1d1d"/>
<circle cx="578.38" cy="346.3" r="0.92" fill="#1d1d1d"/>
<path d="M587.72 346.3L587.13 350.21L589.33 350.21L588.74 346.3ZM588.74 346.3L589.33 342.39L587.13 342.39L587.72 346.3ZM587.98 346.74L590.86 349.1L591.97 347.18L588.48 345.86ZM587.98 345.86L584.49 347.18L585.6 349.1L588.48 346.74ZM588.48 345.86L585.6 343.5L584.49 345.42L587.98 346.74ZM588.48 346.74L591.97 345.42L590.86 343.5L587.98 345.86Z" fill="#1d1d1d"/>
<circle cx="588.23" cy="346.3" r="0.92" fill="#1d1d1d"/>
<path d="M641.29 380.0L640.7 383.91L642.9 383.91L642.31 380.0ZM642.31 380.0L642.9 376.09L640.7 376.09L641.29 380.0ZM641.55 380.44L644.43 382.8L645.54 380.88L642.05 379.56ZM641.55 379.56L638.06 380.88L639.17 382.8L642.05 380.44ZM642.05 379.56L639.17 377.2L638.06 379.12L641.55 380.44ZM642.05 380.44L645.54 379.12L644.43 377.2L641.55 379.56Z" fill="#1d1d1d"/>
<circle cx="641.8" cy="380" r="0.92" fill="#1d1d1d"/>
<path d="M700.49 388.8L699.9 392.71L702.1 392.71L701.51 388.8ZM701.51 388.8L702.1 384.89L699.9 384.89L700.49 388.8ZM700.75 389.24L703.63 391.6L704.74 389.68L701.25 388.36ZM700.75 388.36L697.26 389.68L698.37 391.6L701.25 389.24ZM701.25 388.36L698.37 386.0L697.26 387.92L700.75 389.24ZM701.25 389.24L704.74 387.92L703.63 386.0L700.75 388.36Z" fill="#1d1d1d"/>
<circle cx="701.0" cy="388.8" r="0.92" fill="#1d1d1d"/>
<text x="15.3" y="627" font-size="22" text-anchor="start" font-weight="bold" >e</text>
<rect x="58.75" y="748.3" width="43.25" height="122.7" fill="#808285" stroke="#1d1d1d" stroke-width="2.3"/>
<rect x="111.5" y="825.7" width="43.5" height="45.3" fill="#fff" stroke="#1d1d1d" stroke-width="2.3"/>
<rect x="164.5" y="825.7" width="43.25" height="45.3" fill="#d7d8da" stroke="#1d1d1d" stroke-width="2.3"/>
<rect x="228" y="730.5" width="43.5" height="140.5" fill="#808285" stroke="#1d1d1d" stroke-width="2.3"/>
<rect x="281" y="829.7" width="43.5" height="41.3" fill="#fff" stroke="#1d1d1d" stroke-width="2.3"/>
<rect x="334" y="757" width="43.5" height="114" fill="#d7d8da" stroke="#1d1d1d" stroke-width="2.3"/>
<line x1="48.5" y1="643" x2="48.5" y2="872" stroke="#1d1d1d" stroke-width="2.5" stroke-linecap="butt"/>
<line x1="47.5" y1="871" x2="388.5" y2="871" stroke="#1d1d1d" stroke-width="2.5" stroke-linecap="butt"/>
<line x1="44.3" y1="871" x2="48.5" y2="871" stroke="#1d1d1d" stroke-width="2" stroke-linecap="butt"/>
<text x="41.1" y="874.3" font-size="14" text-anchor="end" font-weight="bold" textLength="8.1" lengthAdjust="spacingAndGlyphs" >0</text>
<line x1="44.3" y1="814.3" x2="48.5" y2="814.3" stroke="#1d1d1d" stroke-width="2" stroke-linecap="butt"/>
<text x="41.1" y="818.3" font-size="14" text-anchor="end" font-weight="bold" textLength="8.1" lengthAdjust="spacingAndGlyphs" >5</text>
<line x1="44.3" y1="757.3" x2="48.5" y2="757.3" stroke="#1d1d1d" stroke-width="2" stroke-linecap="butt"/>
<text x="41.1" y="762.4" font-size="14" text-anchor="end" font-weight="bold" textLength="16.2" lengthAdjust="spacingAndGlyphs" >10</text>
<line x1="44.3" y1="700.3" x2="48.5" y2="700.3" stroke="#1d1d1d" stroke-width="2" stroke-linecap="butt"/>
<text x="41.1" y="706.4" font-size="14" text-anchor="end" font-weight="bold" textLength="16.2" lengthAdjust="spacingAndGlyphs" >15</text>
<line x1="44.3" y1="644" x2="48.5" y2="644" stroke="#1d1d1d" stroke-width="2" stroke-linecap="butt"/>
<text x="41.1" y="650.4" font-size="14" text-anchor="end" font-weight="bold" textLength="16.2" lengthAdjust="spacingAndGlyphs" >20</text>
<rect x="66.9" y="613.5999999999999" width="20.1" height="9.1" fill="#808285" stroke="#1d1d1d" stroke-width="2"/>
<text x="93.0" y="624" font-size="14" text-anchor="start" font-weight="bold" >PBS</text>
<rect x="66.9" y="632.8" width="20.1" height="9.1" fill="#fff" stroke="#1d1d1d" stroke-width="2"/>
<text x="93.0" y="643.2" font-size="14" text-anchor="start" font-weight="bold" textLength="140.5" lengthAdjust="spacingAndGlyphs" >CFA + Veh (10 μl/i.t.)</text>
<rect x="66.9" y="651.8" width="20.1" height="9.1" fill="#d7d8da" stroke="#1d1d1d" stroke-width="2"/>
<text x="93.0" y="662.2" font-size="14" text-anchor="start" font-weight="bold" textLength="179" lengthAdjust="spacingAndGlyphs" >CFA + Δ<tspan font-size="9.5" dy="-5">9</tspan><tspan dy="5">-THC  (10.0 μg/i.t.)</tspan></text>
<line x1="80" y1="733" x2="80" y2="764.5" stroke="#1d1d1d" stroke-width="2" stroke-linecap="butt"/>
<line x1="69.25" y1="733" x2="90.75" y2="733" stroke="#1d1d1d" stroke-width="2" stroke-linecap="butt"/>
<line x1="69.25" y1="764.5" x2="90.75" y2="764.5" stroke="#1d1d1d" stroke-width="2" stroke-linecap="butt"/>
<line x1="133" y1="820.75" x2="133" y2="832.5" stroke="#1d1d1d" stroke-width="2" stroke-linecap="butt"/>
<line x1="122.25" y1="820.75" x2="143.75" y2="820.75" stroke="#1d1d1d" stroke-width="2" stroke-linecap="butt"/>
<line x1="122.25" y1="832.5" x2="143.75" y2="832.5" stroke="#1d1d1d" stroke-width="2" stroke-linecap="butt"/>
<line x1="186.25" y1="823.75" x2="186.25" y2="829.5" stroke="#1d1d1d" stroke-width="2" stroke-linecap="butt"/>
<line x1="175.5" y1="823.75" x2="197.0" y2="823.75" stroke="#1d1d1d" stroke-width="2" stroke-linecap="butt"/>
<line x1="175.5" y1="829.5" x2="197.0" y2="829.5" stroke="#1d1d1d" stroke-width="2" stroke-linecap="butt"/>
<line x1="249.5" y1="725.4" x2="249.5" y2="735.9" stroke="#1d1d1d" stroke-width="2" stroke-linecap="butt"/>
<line x1="238.75" y1="725.4" x2="260.25" y2="725.4" stroke="#1d1d1d" stroke-width="2" stroke-linecap="butt"/>
<line x1="238.75" y1="735.9" x2="260.25" y2="735.9" stroke="#1d1d1d" stroke-width="2" stroke-linecap="butt"/>
<line x1="302.5" y1="819.9" x2="302.5" y2="839.3" stroke="#1d1d1d" stroke-width="2" stroke-linecap="butt"/>
<line x1="291.75" y1="819.9" x2="313.25" y2="819.9" stroke="#1d1d1d" stroke-width="2" stroke-linecap="butt"/>
<line x1="291.75" y1="839.3" x2="313.25" y2="839.3" stroke="#1d1d1d" stroke-width="2" stroke-linecap="butt"/>
<line x1="355.5" y1="739.4" x2="355.5" y2="775.6" stroke="#1d1d1d" stroke-width="2" stroke-linecap="butt"/>
<line x1="344.75" y1="739.4" x2="366.25" y2="739.4" stroke="#1d1d1d" stroke-width="2" stroke-linecap="butt"/>
<line x1="344.75" y1="775.6" x2="366.25" y2="775.6" stroke="#1d1d1d" stroke-width="2" stroke-linecap="butt"/>
<circle cx="80" cy="698.25" r="3.1" fill="#1d1d1d"/>
<circle cx="80" cy="713.25" r="3.1" fill="#1d1d1d"/>
<circle cx="80" cy="738.25" r="3.1" fill="#1d1d1d"/>
<circle cx="80" cy="770" r="3.1" fill="#1d1d1d"/>
<circle cx="80" cy="778" r="3.1" fill="#1d1d1d"/>
<circle cx="80" cy="795.5" r="3.1" fill="#1d1d1d"/>
<circle cx="133" cy="805.5" r="3.1" fill="#1d1d1d"/>
<circle cx="136.25" cy="818" r="3.1" fill="#1d1d1d"/>
<circle cx="129.5" cy="823.75" r="3.1" fill="#1d1d1d"/>
<circle cx="133" cy="831.75" r="3.1" fill="#1d1d1d"/>
<circle cx="128.75" cy="842" r="3.1" fill="#1d1d1d"/>
<circle cx="137.5" cy="839.5" r="3.1" fill="#1d1d1d"/>
<circle cx="186.25" cy="814.5" r="3.1" fill="#1d1d1d"/>
<circle cx="177.5" cy="823.75" r="3.1" fill="#1d1d1d"/>
<circle cx="194.5" cy="822.5" r="3.1" fill="#1d1d1d"/>
<circle cx="186.25" cy="826.25" r="3.1" fill="#1d1d1d"/>
<circle cx="190" cy="833.25" r="3.1" fill="#1d1d1d"/>
<circle cx="181.75" cy="838.25" r="3.1" fill="#1d1d1d"/>
<circle cx="249.2" cy="711.8" r="3.1" fill="#1d1d1d"/>
<circle cx="249.2" cy="721.9" r="3.1" fill="#1d1d1d"/>
<circle cx="245" cy="727.7" r="3.1" fill="#1d1d1d"/>
<circle cx="257.9" cy="735.2" r="3.1" fill="#1d1d1d"/>
<circle cx="253.2" cy="741.7" r="3.1" fill="#1d1d1d"/>
<circle cx="245" cy="745.2" r="3.1" fill="#1d1d1d"/>
<circle cx="302.2" cy="783.7" r="3.1" fill="#1d1d1d"/>
<circle cx="298.3" cy="825.1" r="3.1" fill="#1d1d1d"/>
<circle cx="306.2" cy="832.1" r="3.1" fill="#1d1d1d"/>
<circle cx="293.6" cy="844.4" r="3.1" fill="#1d1d1d"/>
<circle cx="302.2" cy="847.5" r="3.1" fill="#1d1d1d"/>
<circle cx="310.9" cy="846.3" r="3.1" fill="#1d1d1d"/>
<circle cx="355.2" cy="708.6" r="3.1" fill="#1d1d1d"/>
<circle cx="355.2" cy="731.2" r="3.1" fill="#1d1d1d"/>
<circle cx="363.4" cy="749.4" r="3.1" fill="#1d1d1d"/>
<circle cx="346.6" cy="756.4" r="3.1" fill="#1d1d1d"/>
<circle cx="355.2" cy="756.9" r="3.1" fill="#1d1d1d"/>
<circle cx="355.2" cy="842.1" r="3.1" fill="#1d1d1d"/>
<path d="M79.5 692 V686.8 H156.3 V785.3" fill="none" stroke="#1d1d1d" stroke-width="3.8" stroke-linejoin="miter" stroke-linecap="butt"/>
<line x1="120" y1="785.3" x2="192.5" y2="785.3" stroke="#1d1d1d" stroke-width="3.8" stroke-linecap="butt"/>
<path d="M251 699.5 V685.3 H296.5 V769.5" fill="none" stroke="#1d1d1d" stroke-width="3.8" stroke-linejoin="miter" stroke-linecap="butt"/>
<path d="M310 769.5 V685.3 H356.7 V699.5" fill="none" stroke="#1d1d1d" stroke-width="3.8" stroke-linejoin="miter" stroke-linecap="butt"/>
<text x="126.25" y="682" font-size="17" text-anchor="middle" font-weight="bold" textLength="28.5" lengthAdjust="spacingAndGlyphs" class="hs">###</text>
<text x="277.7" y="682" font-size="17" text-anchor="middle" font-weight="bold" textLength="28.5" lengthAdjust="spacingAndGlyphs" class="hs">###</text>
<path d="M328.76 679.8L328.17 683.71L330.37 683.71L329.78 679.8ZM329.78 679.8L330.37 675.89L328.17 675.89L328.76 679.8ZM329.02 680.24L331.9 682.6L333.01 680.68L329.52 679.36ZM329.02 679.36L325.53 680.68L326.64 682.6L329.52 680.24ZM329.52 679.36L326.64 677.0L325.53 678.92L329.02 680.24ZM329.52 680.24L333.01 678.92L331.9 677.0L329.02 679.36Z" fill="#1d1d1d"/>
<circle cx="329.27" cy="679.8" r="0.92" fill="#1d1d1d"/>
<path d="M338.61 679.8L338.02 683.71L340.22 683.71L339.63 679.8ZM339.63 679.8L340.22 675.89L338.02 675.89L338.61 679.8ZM338.87 680.24L341.75 682.6L342.86 680.68L339.37 679.36ZM338.87 679.36L335.38 680.68L336.49 682.6L339.37 680.24ZM339.37 679.36L336.49 677.0L335.38 678.92L338.87 680.24ZM339.37 680.24L342.86 678.92L341.75 677.0L338.87 679.36Z" fill="#1d1d1d"/>
<circle cx="339.12" cy="679.8" r="0.92" fill="#1d1d1d"/>
<text x="134.85" y="894.8" font-size="14.6" text-anchor="middle" font-weight="bold" textLength="150.2" lengthAdjust="spacingAndGlyphs" >Before Treatment (T0)</text>
<text x="305.3" y="894.8" font-size="14.6" text-anchor="middle" font-weight="bold" textLength="168.7" lengthAdjust="spacingAndGlyphs" >After Treatment (45 min)</text>
<line x1="56" y1="879.7" x2="209.5" y2="879.7" stroke="#1d1d1d" stroke-width="1.5" stroke-linecap="butt"/>
<line x1="224.6" y1="879.7" x2="377.8" y2="879.7" stroke="#1d1d1d" stroke-width="1.5" stroke-linecap="butt"/>
<text x="13.5" y="751.7" font-size="16" text-anchor="middle" font-weight="bold" class="rt" transform="rotate(-90 13.5 751.7)" textLength="231" lengthAdjust="spacingAndGlyphs" >Thermal Withdrawal Latency (sec)</text>
<text x="452.5" y="631" font-size="24" text-anchor="start" font-weight="bold" >f</text>
<rect x="484.8" y="739" width="30.8" height="113.3" fill="#fff" stroke="#1d1d1d" stroke-width="2"/>
<rect x="515.6" y="728.5" width="31.3" height="123.8" fill="#b1b3b6" stroke="#1d1d1d" stroke-width="2"/>
<rect x="562.2" y="708.7" width="31.1" height="143.6" fill="#fff" stroke="#1d1d1d" stroke-width="2"/>
<rect x="593.3" y="708.7" width="31.0" height="143.6" fill="#b1b3b6" stroke="#1d1d1d" stroke-width="2"/>
<rect x="639.4" y="824.2" width="31.4" height="28.1" fill="#fff" stroke="#1d1d1d" stroke-width="2"/>
<rect x="670.8" y="760.7" width="31.2" height="91.6" fill="#b1b3b6" stroke="#1d1d1d" stroke-width="2"/>
<rect x="716.8" y="821.1" width="31.4" height="31.2" fill="#fff" stroke="#1d1d1d" stroke-width="2"/>
<rect x="748.2" y="738.4" width="31.1" height="113.9" fill="#b1b3b6" stroke="#1d1d1d" stroke-width="2"/>
<line x1="478" y1="663.2" x2="478" y2="853.3" stroke="#1d1d1d" stroke-width="2.5" stroke-linecap="butt"/>
<line x1="477" y1="852.3" x2="788" y2="852.3" stroke="#1d1d1d" stroke-width="2.5" stroke-linecap="butt"/>
<line x1="473.8" y1="852.3" x2="478" y2="852.3" stroke="#1d1d1d" stroke-width="2" stroke-linecap="butt"/>
<text x="470.8" y="857.3" font-size="14" text-anchor="end" font-weight="bold" textLength="8.1" lengthAdjust="spacingAndGlyphs" >0</text>
<line x1="473.8" y1="814.7" x2="478" y2="814.7" stroke="#1d1d1d" stroke-width="2" stroke-linecap="butt"/>
<text x="470.8" y="819.7" font-size="14" text-anchor="end" font-weight="bold" textLength="8.1" lengthAdjust="spacingAndGlyphs" >5</text>
<line x1="473.8" y1="777.1" x2="478" y2="777.1" stroke="#1d1d1d" stroke-width="2" stroke-linecap="butt"/>
<text x="470.8" y="782.1" font-size="14" text-anchor="end" font-weight="bold" textLength="16.2" lengthAdjust="spacingAndGlyphs" >10</text>
<line x1="473.8" y1="739.5" x2="478" y2="739.5" stroke="#1d1d1d" stroke-width="2" stroke-linecap="butt"/>
<text x="470.8" y="744.5" font-size="14" text-anchor="end" font-weight="bold" textLength="16.2" lengthAdjust="spacingAndGlyphs" >15</text>
<line x1="473.8" y1="701.9" x2="478" y2="701.9" stroke="#1d1d1d" stroke-width="2" stroke-linecap="butt"/>
<text x="470.8" y="706.9" font-size="14" text-anchor="end" font-weight="bold" textLength="16.2" lengthAdjust="spacingAndGlyphs" >20</text>
<line x1="473.8" y1="664.2" x2="478" y2="664.2" stroke="#1d1d1d" stroke-width="2" stroke-linecap="butt"/>
<text x="470.8" y="669.2" font-size="14" text-anchor="end" font-weight="bold" textLength="16.2" lengthAdjust="spacingAndGlyphs" >25</text>
<rect x="498" y="620.9000000000001" width="17.5" height="9.1" fill="#fff" stroke="#1d1d1d" stroke-width="2"/>
<text x="521.3" y="630.1" font-size="14" text-anchor="start" font-weight="bold" textLength="142.5" lengthAdjust="spacingAndGlyphs" >CFA + Veh (10 μl/i.t.)</text>
<rect x="498" y="640.7" width="17.5" height="9.1" fill="#b1b3b6" stroke="#1d1d1d" stroke-width="2"/>
<text x="521.3" y="650.4" font-size="14" text-anchor="start" font-weight="bold" textLength="181" lengthAdjust="spacingAndGlyphs" >CFA + Δ<tspan font-size="9.5" dy="-5">9</tspan><tspan dy="5">-THC  (10.0 μg/i.t.)</tspan></text>
<line x1="500.7" y1="732.7" x2="500.7" y2="745.4" stroke="#1d1d1d" stroke-width="1.8" stroke-linecap="butt"/>
<line x1="492.95" y1="732.7" x2="508.45" y2="732.7" stroke="#1d1d1d" stroke-width="1.8" stroke-linecap="butt"/>
<line x1="492.95" y1="745.4" x2="508.45" y2="745.4" stroke="#1d1d1d" stroke-width="1.8" stroke-linecap="butt"/>
<line x1="531.5" y1="718.7" x2="531.5" y2="739.5" stroke="#1d1d1d" stroke-width="1.8" stroke-linecap="butt"/>
<line x1="523.75" y1="718.7" x2="539.25" y2="718.7" stroke="#1d1d1d" stroke-width="1.8" stroke-linecap="butt"/>
<line x1="523.75" y1="739.5" x2="539.25" y2="739.5" stroke="#1d1d1d" stroke-width="1.8" stroke-linecap="butt"/>
<line x1="578.1" y1="698.1" x2="578.1" y2="720" stroke="#1d1d1d" stroke-width="1.8" stroke-linecap="butt"/>
<line x1="570.35" y1="698.1" x2="585.85" y2="698.1" stroke="#1d1d1d" stroke-width="1.8" stroke-linecap="butt"/>
<line x1="570.35" y1="720" x2="585.85" y2="720" stroke="#1d1d1d" stroke-width="1.8" stroke-linecap="butt"/>
<line x1="608.8" y1="698.1" x2="608.8" y2="719.3" stroke="#1d1d1d" stroke-width="1.8" stroke-linecap="butt"/>
<line x1="601.05" y1="698.1" x2="616.55" y2="698.1" stroke="#1d1d1d" stroke-width="1.8" stroke-linecap="butt"/>
<line x1="601.05" y1="719.3" x2="616.55" y2="719.3" stroke="#1d1d1d" stroke-width="1.8" stroke-linecap="butt"/>
<line x1="655.3" y1="820" x2="655.3" y2="828.9" stroke="#1d1d1d" stroke-width="1.8" stroke-linecap="butt"/>
<line x1="647.55" y1="820" x2="663.05" y2="820" stroke="#1d1d1d" stroke-width="1.8" stroke-linecap="butt"/>
<line x1="647.55" y1="828.9" x2="663.05" y2="828.9" stroke="#1d1d1d" stroke-width="1.8" stroke-linecap="butt"/>
<line x1="686.1" y1="749.6" x2="686.1" y2="771.7" stroke="#1d1d1d" stroke-width="1.8" stroke-linecap="butt"/>
<line x1="678.35" y1="749.6" x2="693.85" y2="749.6" stroke="#1d1d1d" stroke-width="1.8" stroke-linecap="butt"/>
<line x1="678.35" y1="771.7" x2="693.85" y2="771.7" stroke="#1d1d1d" stroke-width="1.8" stroke-linecap="butt"/>
<line x1="732.7" y1="817.3" x2="732.7" y2="824.9" stroke="#1d1d1d" stroke-width="1.8" stroke-linecap="butt"/>
<line x1="724.95" y1="817.3" x2="740.45" y2="817.3" stroke="#1d1d1d" stroke-width="1.8" stroke-linecap="butt"/>
<line x1="724.95" y1="824.9" x2="740.45" y2="824.9" stroke="#1d1d1d" stroke-width="1.8" stroke-linecap="butt"/>
<line x1="763.4" y1="720.4" x2="763.4" y2="757.1" stroke="#1d1d1d" stroke-width="1.8" stroke-linecap="butt"/>
<line x1="755.65" y1="720.4" x2="771.15" y2="720.4" stroke="#1d1d1d" stroke-width="1.8" stroke-linecap="butt"/>
<line x1="755.65" y1="757.1" x2="771.15" y2="757.1" stroke="#1d1d1d" stroke-width="1.8" stroke-linecap="butt"/>
<circle cx="500.7" cy="694.5" r="2.7" fill="#1d1d1d"/>
<circle cx="500.7" cy="726.3" r="2.7" fill="#1d1d1d"/>
<circle cx="488.6" cy="737.4" r="2.7" fill="#1d1d1d"/>
<circle cx="513" cy="738" r="2.7" fill="#1d1d1d"/>
<circle cx="494.4" cy="739.5" r="2.7" fill="#1d1d1d"/>
<circle cx="500.7" cy="743.3" r="2.7" fill="#1d1d1d"/>
<circle cx="507.1" cy="742.7" r="2.7" fill="#1d1d1d"/>
<circle cx="497.6" cy="748.4" r="2.7" fill="#1d1d1d"/>
<circle cx="503.9" cy="751.6" r="2.7" fill="#1d1d1d"/>
<circle cx="500.7" cy="770.6" r="2.7" fill="#1d1d1d"/>
<circle cx="531.5" cy="690.7" r="2.7" fill="#1d1d1d"/>
<circle cx="528.5" cy="720.5" r="2.7" fill="#1d1d1d"/>
<circle cx="531.5" cy="702.4" r="2.7" fill="#1d1d1d"/>
<circle cx="534.6" cy="705.6" r="2.7" fill="#1d1d1d"/>
<circle cx="528.3" cy="709.8" r="2.7" fill="#1d1d1d"/>
<circle cx="534.6" cy="726.3" r="2.7" fill="#1d1d1d"/>
<circle cx="531.5" cy="736.7" r="2.7" fill="#1d1d1d"/>
<circle cx="528.3" cy="744.8" r="2.7" fill="#1d1d1d"/>
<circle cx="534.6" cy="748.6" r="2.7" fill="#1d1d1d"/>
<circle cx="531.5" cy="805.8" r="2.7" fill="#1d1d1d"/>
<circle cx="578.1" cy="668.9" r="2.7" fill="#1d1d1d"/>
<circle cx="578.1" cy="689" r="2.7" fill="#1d1d1d"/>
<circle cx="578.1" cy="697.1" r="2.7" fill="#1d1d1d"/>
<circle cx="574.9" cy="710.9" r="2.7" fill="#1d1d1d"/>
<circle cx="581.3" cy="709.2" r="2.7" fill="#1d1d1d"/>
<circle cx="578.1" cy="733.5" r="2.7" fill="#1d1d1d"/>
<circle cx="578.1" cy="753.9" r="2.7" fill="#1d1d1d"/>
<circle cx="608.8" cy="688.2" r="2.7" fill="#1d1d1d"/>
<circle cx="612" cy="701.7" r="2.7" fill="#1d1d1d"/>
<circle cx="605.6" cy="708.3" r="2.7" fill="#1d1d1d"/>
<circle cx="605.6" cy="728.2" r="2.7" fill="#1d1d1d"/>
<circle cx="612" cy="731.6" r="2.7" fill="#1d1d1d"/>
<circle cx="608.8" cy="742.7" r="2.7" fill="#1d1d1d"/>
<circle cx="655.3" cy="795.6" r="2.7" fill="#1d1d1d"/>
<circle cx="648.6" cy="811.5" r="2.7" fill="#1d1d1d"/>
<circle cx="655.3" cy="817.3" r="2.7" fill="#1d1d1d"/>
<circle cx="661.7" cy="816.4" r="2.7" fill="#1d1d1d"/>
<circle cx="642.2" cy="834.2" r="2.7" fill="#1d1d1d"/>
<circle cx="648.6" cy="835.9" r="2.7" fill="#1d1d1d"/>
<circle cx="655.3" cy="838" r="2.7" fill="#1d1d1d"/>
<circle cx="661.7" cy="835.9" r="2.7" fill="#1d1d1d"/>
<circle cx="667.6" cy="834.8" r="2.7" fill="#1d1d1d"/>
<circle cx="655.3" cy="827.4" r="2.7" fill="#1d1d1d"/>
<circle cx="683.1" cy="703.9" r="2.7" fill="#1d1d1d"/>
<circle cx="689.2" cy="700.3" r="2.7" fill="#1d1d1d"/>
<circle cx="686.1" cy="741" r="2.7" fill="#1d1d1d"/>
<circle cx="686.1" cy="758.5" r="2.7" fill="#1d1d1d"/>
<circle cx="686.1" cy="766" r="2.7" fill="#1d1d1d"/>
<circle cx="683.1" cy="780.2" r="2.7" fill="#1d1d1d"/>
<circle cx="689.2" cy="779.7" r="2.7" fill="#1d1d1d"/>
<circle cx="683.1" cy="787.6" r="2.7" fill="#1d1d1d"/>
<circle cx="689.2" cy="791.8" r="2.7" fill="#1d1d1d"/>
<circle cx="686.1" cy="799.2" r="2.7" fill="#1d1d1d"/>
<circle cx="726.3" cy="810.9" r="2.7" fill="#1d1d1d"/>
<circle cx="732.7" cy="812.6" r="2.7" fill="#1d1d1d"/>
<circle cx="739" cy="811.5" r="2.7" fill="#1d1d1d"/>
<circle cx="729.5" cy="817.9" r="2.7" fill="#1d1d1d"/>
<circle cx="735.4" cy="822.8" r="2.7" fill="#1d1d1d"/>
<circle cx="729.5" cy="835.9" r="2.7" fill="#1d1d1d"/>
<circle cx="735.4" cy="835.3" r="2.7" fill="#1d1d1d"/>
<circle cx="763.4" cy="674.8" r="2.7" fill="#1d1d1d"/>
<circle cx="763.4" cy="682.9" r="2.7" fill="#1d1d1d"/>
<circle cx="760.2" cy="729.9" r="2.7" fill="#1d1d1d"/>
<circle cx="766.6" cy="732.1" r="2.7" fill="#1d1d1d"/>
<circle cx="763.4" cy="757.5" r="2.7" fill="#1d1d1d"/>
<circle cx="763.4" cy="786.1" r="2.7" fill="#1d1d1d"/>
<circle cx="763.4" cy="807.3" r="2.7" fill="#1d1d1d"/>
<line x1="639.4" y1="689.7" x2="700" y2="689.7" stroke="#1d1d1d" stroke-width="2" stroke-linecap="butt"/>
<line x1="716.8" y1="668.9" x2="777.4" y2="668.9" stroke="#1d1d1d" stroke-width="2" stroke-linecap="butt"/>
<text x="517.3" y="868.5" font-size="14" text-anchor="middle" font-weight="bold" >WT</text>
<text x="595.6" y="868.5" font-size="14" text-anchor="middle" font-weight="bold" textLength="52.4" lengthAdjust="spacingAndGlyphs" >CB<tspan font-size="9.5" dy="3">1</tspan><tspan dy="-3"> null</tspan></text>
<text x="670" y="868.5" font-size="14" text-anchor="middle" font-weight="bold" >WT</text>
<text x="748.3" y="868.5" font-size="14" text-anchor="middle" font-weight="bold" textLength="52.4" lengthAdjust="spacingAndGlyphs" >CB<tspan font-size="9.5" dy="3">1</tspan><tspan dy="-3"> null</tspan></text>
<line x1="491.2" y1="875.5" x2="621.1" y2="875.5" stroke="#1d1d1d" stroke-width="1.7" stroke-linecap="butt"/>
<line x1="644.2" y1="875.5" x2="773.8" y2="875.5" stroke="#1d1d1d" stroke-width="1.7" stroke-linecap="butt"/>
<text x="563.1" y="891.8" font-size="14.6" text-anchor="middle" font-weight="bold" textLength="55.5" lengthAdjust="spacingAndGlyphs" >Baseline</text>
<text x="710.5" y="891.8" font-size="14.6" text-anchor="middle" font-weight="bold" >CFA + treatment</text>
<text x="710.5" y="906.8" font-size="14.6" text-anchor="middle" font-weight="bold" >(at t=45 min)</text>
<text x="442.5" y="750.8" font-size="14" text-anchor="middle" font-weight="bold" class="rt" transform="rotate(-90 442.5 750.8)" textLength="230" lengthAdjust="spacingAndGlyphs" >Thermal Withdrawal Latency (sec)</text>
<path d="M655.89 683.5L655.3 687.41L657.5 687.41L656.91 683.5ZM656.91 683.5L657.5 679.59L655.3 679.59L655.89 683.5ZM656.15 683.94L659.03 686.3L660.14 684.38L656.65 683.06ZM656.15 683.06L652.66 684.38L653.77 686.3L656.65 683.94ZM656.65 683.06L653.77 680.7L652.66 682.62L656.15 683.94ZM656.65 683.94L660.14 682.62L659.03 680.7L656.15 683.06Z" fill="#1d1d1d"/>
<circle cx="656.4" cy="683.5" r="0.92" fill="#1d1d1d"/>
<path d="M665.49 683.5L664.9 687.41L667.1 687.41L666.51 683.5ZM666.51 683.5L667.1 679.59L664.9 679.59L665.49 683.5ZM665.75 683.94L668.63 686.3L669.74 684.38L666.25 683.06ZM665.75 683.06L662.26 684.38L663.37 686.3L666.25 683.94ZM666.25 683.06L663.37 680.7L662.26 682.62L665.75 683.94ZM666.25 683.94L669.74 682.62L668.63 680.7L665.75 683.06Z" fill="#1d1d1d"/>
<circle cx="666.0" cy="683.5" r="0.92" fill="#1d1d1d"/>
<path d="M675.09 683.5L674.5 687.41L676.7 687.41L676.11 683.5ZM676.11 683.5L676.7 679.59L674.5 679.59L675.09 683.5ZM675.35 683.94L678.23 686.3L679.34 684.38L675.85 683.06ZM675.35 683.06L671.86 684.38L672.97 686.3L675.85 683.94ZM675.85 683.06L672.97 680.7L671.86 682.62L675.35 683.94ZM675.85 683.94L679.34 682.62L678.23 680.7L675.35 683.06Z" fill="#1d1d1d"/>
<circle cx="675.6" cy="683.5" r="0.92" fill="#1d1d1d"/>
<path d="M684.69 683.5L684.1 687.41L686.3 687.41L685.71 683.5ZM685.71 683.5L686.3 679.59L684.1 679.59L684.69 683.5ZM684.95 683.94L687.83 686.3L688.94 684.38L685.45 683.06ZM684.95 683.06L681.46 684.38L682.57 686.3L685.45 683.94ZM685.45 683.06L682.57 680.7L681.46 682.62L684.95 683.94ZM685.45 683.94L688.94 682.62L687.83 680.7L684.95 683.06Z" fill="#1d1d1d"/>
<circle cx="685.2" cy="683.5" r="0.92" fill="#1d1d1d"/>
<path d="M733.29 663.7L732.7 667.61L734.9 667.61L734.31 663.7ZM734.31 663.7L734.9 659.79L732.7 659.79L733.29 663.7ZM733.55 664.14L736.43 666.5L737.54 664.58L734.05 663.26ZM733.55 663.26L730.06 664.58L731.17 666.5L734.05 664.14ZM734.05 663.26L731.17 660.9L730.06 662.82L733.55 664.14ZM734.05 664.14L737.54 662.82L736.43 660.9L733.55 663.26Z" fill="#1d1d1d"/>
<circle cx="733.8" cy="663.7" r="0.92" fill="#1d1d1d"/>
<path d="M742.89 663.7L742.3 667.61L744.5 667.61L743.91 663.7ZM743.91 663.7L744.5 659.79L742.3 659.79L742.89 663.7ZM743.15 664.14L746.03 666.5L747.14 664.58L743.65 663.26ZM743.15 663.26L739.66 664.58L740.77 666.5L743.65 664.14ZM743.65 663.26L740.77 660.9L739.66 662.82L743.15 664.14ZM743.65 664.14L747.14 662.82L746.03 660.9L743.15 663.26Z" fill="#1d1d1d"/>
<circle cx="743.4" cy="663.7" r="0.92" fill="#1d1d1d"/>
<path d="M752.49 663.7L751.9 667.61L754.1 667.61L753.51 663.7ZM753.51 663.7L754.1 659.79L751.9 659.79L752.49 663.7ZM752.75 664.14L755.63 666.5L756.74 664.58L753.25 663.26ZM752.75 663.26L749.26 664.58L750.37 666.5L753.25 664.14ZM753.25 663.26L750.37 660.9L749.26 662.82L752.75 664.14ZM753.25 664.14L756.74 662.82L755.63 660.9L752.75 663.26Z" fill="#1d1d1d"/>
<circle cx="753.0" cy="663.7" r="0.92" fill="#1d1d1d"/>
<path d="M762.09 663.7L761.5 667.61L763.7 667.61L763.11 663.7ZM763.11 663.7L763.7 659.79L761.5 659.79L762.09 663.7ZM762.35 664.14L765.23 666.5L766.34 664.58L762.85 663.26ZM762.35 663.26L758.86 664.58L759.97 666.5L762.85 664.14ZM762.85 663.26L759.97 660.9L758.86 662.82L762.35 664.14ZM762.85 664.14L766.34 662.82L765.23 660.9L762.35 663.26Z" fill="#1d1d1d"/>
<circle cx="762.6" cy="663.7" r="0.92" fill="#1d1d1d"/>
<text x="13.5" y="946.7" font-size="22" text-anchor="start" font-weight="bold" >g</text>
<rect x="63.6" y="1084.6" width="31.2" height="93.4" fill="#fff" stroke="#1d1d1d" stroke-width="2"/>
<rect x="94.8" y="1091.1" width="31.2" height="86.9" fill="#b1b3b6" stroke="#1d1d1d" stroke-width="2"/>
<rect x="141.4" y="1099.4" width="30.8" height="78.6" fill="#fff" stroke="#1d1d1d" stroke-width="2"/>
<rect x="172.2" y="1086.9" width="31.3" height="91.1" fill="#b1b3b6" stroke="#1d1d1d" stroke-width="2"/>
<rect x="218.8" y="1155.7" width="31.1" height="22.3" fill="#fff" stroke="#1d1d1d" stroke-width="2"/>
<rect x="249.9" y="1106.4" width="31.4" height="71.6" fill="#b1b3b6" stroke="#1d1d1d" stroke-width="2"/>
<rect x="296.6" y="1153.6" width="31.3" height="24.4" fill="#fff" stroke="#1d1d1d" stroke-width="2"/>
<rect x="327.9" y="1108.1" width="31.4" height="69.9" fill="#b1b3b6" stroke="#1d1d1d" stroke-width="2"/>
<line x1="55.9" y1="989.9" x2="55.9" y2="1179" stroke="#1d1d1d" stroke-width="2.5" stroke-linecap="butt"/>
<line x1="54.9" y1="1178" x2="368" y2="1178" stroke="#1d1d1d" stroke-width="2.5" stroke-linecap="butt"/>
<line x1="51.699999999999996" y1="1178" x2="55.9" y2="1178" stroke="#1d1d1d" stroke-width="2" stroke-linecap="butt"/>
<text x="48.5" y="1181.1" font-size="14" text-anchor="end" font-weight="bold" textLength="8.1" lengthAdjust="spacingAndGlyphs" >0</text>
<line x1="51.699999999999996" y1="1115.7" x2="55.9" y2="1115.7" stroke="#1d1d1d" stroke-width="2" stroke-linecap="butt"/>
<text x="48.5" y="1119.3" font-size="14" text-anchor="end" font-weight="bold" textLength="16.2" lengthAdjust="spacingAndGlyphs" >10</text>
<line x1="51.699999999999996" y1="1053.3" x2="55.9" y2="1053.3" stroke="#1d1d1d" stroke-width="2" stroke-linecap="butt"/>
<text x="48.5" y="1057.4" font-size="14" text-anchor="end" font-weight="bold" textLength="16.2" lengthAdjust="spacingAndGlyphs" >20</text>
<line x1="51.699999999999996" y1="990.9" x2="55.9" y2="990.9" stroke="#1d1d1d" stroke-width="2" stroke-linecap="butt"/>
<text x="48.5" y="995.6" font-size="14" text-anchor="end" font-weight="bold" textLength="16.2" lengthAdjust="spacingAndGlyphs" >30</text>
<rect x="76.4" y="945.6500000000001" width="17.3" height="9.1" fill="#fff" stroke="#1d1d1d" stroke-width="2"/>
<text x="100" y="954.5" font-size="14" text-anchor="start" font-weight="bold" textLength="141.5" lengthAdjust="spacingAndGlyphs" >CFA + Veh (10 μl/i.t.)</text>
<rect x="76.4" y="965.45" width="17.3" height="9.1" fill="#b1b3b6" stroke="#1d1d1d" stroke-width="2"/>
<text x="100" y="975.3" font-size="14" text-anchor="start" font-weight="bold" textLength="181" lengthAdjust="spacingAndGlyphs" >CFA + Δ<tspan font-size="9.5" dy="-5">9</tspan><tspan dy="5">-THC  (10.0 μg/i.t.)</tspan></text>
<line x1="79.3" y1="1066.6" x2="79.3" y2="1103.2" stroke="#1d1d1d" stroke-width="1.8" stroke-linecap="butt"/>
<line x1="71.55" y1="1066.6" x2="87.05" y2="1066.6" stroke="#1d1d1d" stroke-width="1.8" stroke-linecap="butt"/>
<line x1="71.55" y1="1103.2" x2="87.05" y2="1103.2" stroke="#1d1d1d" stroke-width="1.8" stroke-linecap="butt"/>
<line x1="110.3" y1="1084.8" x2="110.3" y2="1097.5" stroke="#1d1d1d" stroke-width="1.8" stroke-linecap="butt"/>
<line x1="102.55" y1="1084.8" x2="118.05" y2="1084.8" stroke="#1d1d1d" stroke-width="1.8" stroke-linecap="butt"/>
<line x1="102.55" y1="1097.5" x2="118.05" y2="1097.5" stroke="#1d1d1d" stroke-width="1.8" stroke-linecap="butt"/>
<line x1="156.9" y1="1089.4" x2="156.9" y2="1108.9" stroke="#1d1d1d" stroke-width="1.8" stroke-linecap="butt"/>
<line x1="149.15" y1="1089.4" x2="164.65" y2="1089.4" stroke="#1d1d1d" stroke-width="1.8" stroke-linecap="butt"/>
<line x1="149.15" y1="1108.9" x2="164.65" y2="1108.9" stroke="#1d1d1d" stroke-width="1.8" stroke-linecap="butt"/>
<line x1="188.1" y1="1074.6" x2="188.1" y2="1098.6" stroke="#1d1d1d" stroke-width="1.8" stroke-linecap="butt"/>
<line x1="180.35" y1="1074.6" x2="195.85" y2="1074.6" stroke="#1d1d1d" stroke-width="1.8" stroke-linecap="butt"/>
<line x1="180.35" y1="1098.6" x2="195.85" y2="1098.6" stroke="#1d1d1d" stroke-width="1.8" stroke-linecap="butt"/>
<line x1="235.3" y1="1152.6" x2="235.3" y2="1159.5" stroke="#1d1d1d" stroke-width="1.8" stroke-linecap="butt"/>
<line x1="227.55" y1="1152.6" x2="243.05" y2="1152.6" stroke="#1d1d1d" stroke-width="1.8" stroke-linecap="butt"/>
<line x1="227.55" y1="1159.5" x2="243.05" y2="1159.5" stroke="#1d1d1d" stroke-width="1.8" stroke-linecap="butt"/>
<line x1="265.4" y1="1095.8" x2="265.4" y2="1117.2" stroke="#1d1d1d" stroke-width="1.8" stroke-linecap="butt"/>
<line x1="257.65" y1="1095.8" x2="273.15" y2="1095.8" stroke="#1d1d1d" stroke-width="1.8" stroke-linecap="butt"/>
<line x1="257.65" y1="1117.2" x2="273.15" y2="1117.2" stroke="#1d1d1d" stroke-width="1.8" stroke-linecap="butt"/>
<line x1="312.4" y1="1150.4" x2="312.4" y2="1157.2" stroke="#1d1d1d" stroke-width="1.8" stroke-linecap="butt"/>
<line x1="304.65" y1="1150.4" x2="320.15" y2="1150.4" stroke="#1d1d1d" stroke-width="1.8" stroke-linecap="butt"/>
<line x1="304.65" y1="1157.2" x2="320.15" y2="1157.2" stroke="#1d1d1d" stroke-width="1.8" stroke-linecap="butt"/>
<line x1="343.4" y1="1085.4" x2="343.4" y2="1129.9" stroke="#1d1d1d" stroke-width="1.8" stroke-linecap="butt"/>
<line x1="335.65" y1="1085.4" x2="351.15" y2="1085.4" stroke="#1d1d1d" stroke-width="1.8" stroke-linecap="butt"/>
<line x1="335.65" y1="1129.9" x2="351.15" y2="1129.9" stroke="#1d1d1d" stroke-width="1.8" stroke-linecap="butt"/>
<circle cx="79.3" cy="1022.7" r="2.7" fill="#1d1d1d"/>
<circle cx="79.3" cy="1045.6" r="2.7" fill="#1d1d1d"/>
<circle cx="79.3" cy="1085.8" r="2.7" fill="#1d1d1d"/>
<circle cx="79.3" cy="1097.3" r="2.7" fill="#1d1d1d"/>
<circle cx="79.3" cy="1111.3" r="2.7" fill="#1d1d1d"/>
<circle cx="79.3" cy="1147.1" r="2.7" fill="#1d1d1d"/>
<circle cx="110.3" cy="1065.7" r="2.7" fill="#1d1d1d"/>
<circle cx="110.3" cy="1077.8" r="2.7" fill="#1d1d1d"/>
<circle cx="103.9" cy="1090.5" r="2.7" fill="#1d1d1d"/>
<circle cx="116.6" cy="1089.4" r="2.7" fill="#1d1d1d"/>
<circle cx="110.3" cy="1094.1" r="2.7" fill="#1d1d1d"/>
<circle cx="107.1" cy="1112.8" r="2.7" fill="#1d1d1d"/>
<circle cx="113.9" cy="1111.3" r="2.7" fill="#1d1d1d"/>
<circle cx="156.9" cy="1051.9" r="2.7" fill="#1d1d1d"/>
<circle cx="156.9" cy="1079.9" r="2.7" fill="#1d1d1d"/>
<circle cx="156.9" cy="1098.6" r="2.7" fill="#1d1d1d"/>
<circle cx="150.3" cy="1109.6" r="2.7" fill="#1d1d1d"/>
<circle cx="163" cy="1108.5" r="2.7" fill="#1d1d1d"/>
<circle cx="156.9" cy="1114.4" r="2.7" fill="#1d1d1d"/>
<circle cx="156.9" cy="1135.4" r="2.7" fill="#1d1d1d"/>
<circle cx="188.1" cy="1036" r="2.7" fill="#1d1d1d"/>
<circle cx="188.1" cy="1060.4" r="2.7" fill="#1d1d1d"/>
<circle cx="184.9" cy="1066.1" r="2.7" fill="#1d1d1d"/>
<circle cx="191.2" cy="1067.8" r="2.7" fill="#1d1d1d"/>
<circle cx="188.1" cy="1108.5" r="2.7" fill="#1d1d1d"/>
<circle cx="184.4" cy="1114.4" r="2.7" fill="#1d1d1d"/>
<circle cx="191.7" cy="1115.3" r="2.7" fill="#1d1d1d"/>
<circle cx="188.1" cy="1127" r="2.7" fill="#1d1d1d"/>
<circle cx="237.4" cy="1144.5" r="2.7" fill="#1d1d1d"/>
<circle cx="227.9" cy="1149.4" r="2.7" fill="#1d1d1d"/>
<circle cx="233.6" cy="1152.6" r="2.7" fill="#1d1d1d"/>
<circle cx="236.8" cy="1157.9" r="2.7" fill="#1d1d1d"/>
<circle cx="237.8" cy="1163.6" r="2.7" fill="#1d1d1d"/>
<circle cx="231.1" cy="1168" r="2.7" fill="#1d1d1d"/>
<circle cx="265.4" cy="1055.1" r="2.7" fill="#1d1d1d"/>
<circle cx="265.4" cy="1086.2" r="2.7" fill="#1d1d1d"/>
<circle cx="265.4" cy="1098.1" r="2.7" fill="#1d1d1d"/>
<circle cx="265.4" cy="1117.2" r="2.7" fill="#1d1d1d"/>
<circle cx="262.2" cy="1125.4" r="2.7" fill="#1d1d1d"/>
<circle cx="269.2" cy="1128.2" r="2.7" fill="#1d1d1d"/>
<circle cx="265.4" cy="1135.2" r="2.7" fill="#1d1d1d"/>
<circle cx="312.4" cy="1138.4" r="2.7" fill="#1d1d1d"/>
<circle cx="312.4" cy="1147.3" r="2.7" fill="#1d1d1d"/>
<circle cx="305.7" cy="1154.3" r="2.7" fill="#1d1d1d"/>
<circle cx="318.4" cy="1153.2" r="2.7" fill="#1d1d1d"/>
<circle cx="312.4" cy="1155.1" r="2.7" fill="#1d1d1d"/>
<circle cx="315.6" cy="1159.6" r="2.7" fill="#1d1d1d"/>
<circle cx="308.8" cy="1165.9" r="2.7" fill="#1d1d1d"/>
<circle cx="343.4" cy="990.9" r="2.7" fill="#1d1d1d"/>
<circle cx="343.4" cy="1051.3" r="2.7" fill="#1d1d1d"/>
<circle cx="343.4" cy="1072" r="2.7" fill="#1d1d1d"/>
<circle cx="343.4" cy="1138.8" r="2.7" fill="#1d1d1d"/>
<circle cx="340" cy="1143.7" r="2.7" fill="#1d1d1d"/>
<circle cx="346.6" cy="1145.1" r="2.7" fill="#1d1d1d"/>
<circle cx="340" cy="1162.1" r="2.7" fill="#1d1d1d"/>
<circle cx="346.6" cy="1161.7" r="2.7" fill="#1d1d1d"/>
<line x1="218.8" y1="1037.1" x2="279.6" y2="1037.1" stroke="#1d1d1d" stroke-width="2" stroke-linecap="butt"/>
<line x1="295.7" y1="983.4" x2="355.9" y2="983.4" stroke="#1d1d1d" stroke-width="2" stroke-linecap="butt"/>
<text x="95.2" y="1194" font-size="14" text-anchor="middle" font-weight="bold" >WT</text>
<text x="173.3" y="1194" font-size="14" text-anchor="middle" font-weight="bold" textLength="51.5" lengthAdjust="spacingAndGlyphs" >CB<tspan font-size="9.5" dy="3">2</tspan><tspan dy="-3"> null</tspan></text>
<text x="249.1" y="1194" font-size="14" text-anchor="middle" font-weight="bold" >WT</text>
<text x="326.6" y="1194" font-size="14" text-anchor="middle" font-weight="bold" textLength="51.5" lengthAdjust="spacingAndGlyphs" >CB<tspan font-size="9.5" dy="3">2</tspan><tspan dy="-3"> null</tspan></text>
<line x1="69.3" y1="1201" x2="199.3" y2="1201" stroke="#1d1d1d" stroke-width="1.7" stroke-linecap="butt"/>
<line x1="222.6" y1="1201" x2="351.9" y2="1201" stroke="#1d1d1d" stroke-width="1.7" stroke-linecap="butt"/>
<text x="141.3" y="1216.5" font-size="14.6" text-anchor="middle" font-weight="bold" >Baseline</text>
<text x="289.9" y="1216.5" font-size="14.6" text-anchor="middle" font-weight="bold" textLength="110" lengthAdjust="spacingAndGlyphs" >CFA + treatment</text>
<text x="288.6" y="1231.5" font-size="14.6" text-anchor="middle" font-weight="bold" textLength="87" lengthAdjust="spacingAndGlyphs" >(at t=45 min)</text>
<text x="21.2" y="1079.8" font-size="14" text-anchor="middle" font-weight="bold" class="rt" transform="rotate(-90 21.2 1079.8)" textLength="232" lengthAdjust="spacingAndGlyphs" >Thermal Withdrawal Latency (sec)</text>
<path d="M249.39 1030.3L248.8 1034.21L251.0 1034.21L250.41 1030.3ZM250.41 1030.3L251.0 1026.39L248.8 1026.39L249.39 1030.3ZM249.65 1030.74L252.53 1033.1L253.64 1031.18L250.15 1029.86ZM249.65 1029.86L246.16 1031.18L247.27 1033.1L250.15 1030.74ZM250.15 1029.86L247.27 1027.5L246.16 1029.42L249.65 1030.74ZM250.15 1030.74L253.64 1029.42L252.53 1027.5L249.65 1029.86Z" fill="#1d1d1d"/>
<circle cx="249.9" cy="1030.3" r="0.92" fill="#1d1d1d"/>
<path d="M326.99 979.4L326.4 983.31L328.6 983.31L328.01 979.4ZM328.01 979.4L328.6 975.49L326.4 975.49L326.99 979.4ZM327.25 979.84L330.13 982.2L331.24 980.28L327.75 978.96ZM327.25 978.96L323.76 980.28L324.87 982.2L327.75 979.84ZM327.75 978.96L324.87 976.6L323.76 978.52L327.25 979.84ZM327.75 979.84L331.24 978.52L330.13 976.6L327.25 978.96Z" fill="#1d1d1d"/>
<circle cx="327.5" cy="979.4" r="0.92" fill="#1d1d1d"/>
<text x="449.8" y="952.8" font-size="23.5" text-anchor="start" font-weight="bold" >h</text>
<rect x="482.4" y="1084.6" width="28.6" height="93.4" fill="#fff" stroke="#1d1d1d" stroke-width="2"/>
<rect x="511" y="1080.8" width="29.2" height="97.2" fill="#b1b3b6" stroke="#1d1d1d" stroke-width="2"/>
<rect x="554.4" y="1082.5" width="28.9" height="95.5" fill="#fff" stroke="#1d1d1d" stroke-width="2"/>
<rect x="583.3" y="1082.9" width="29.0" height="95.1" fill="#b1b3b6" stroke="#1d1d1d" stroke-width="2"/>
<rect x="626.3" y="1135.9" width="29.2" height="42.1" fill="#fff" stroke="#1d1d1d" stroke-width="2"/>
<rect x="655.5" y="1075.1" width="29.3" height="102.9" fill="#b1b3b6" stroke="#1d1d1d" stroke-width="2"/>
<rect x="698.5" y="1145.4" width="29.1" height="32.6" fill="#fff" stroke="#1d1d1d" stroke-width="2"/>
<rect x="727.6" y="1135.9" width="29.6" height="42.1" fill="#b1b3b6" stroke="#1d1d1d" stroke-width="2"/>
<line x1="475" y1="1000" x2="475" y2="1179" stroke="#1d1d1d" stroke-width="2.5" stroke-linecap="butt"/>
<line x1="474" y1="1178" x2="765" y2="1178" stroke="#1d1d1d" stroke-width="2.5" stroke-linecap="butt"/>
<line x1="470.8" y1="1178" x2="475" y2="1178" stroke="#1d1d1d" stroke-width="2" stroke-linecap="butt"/>
<text x="468.5" y="1182.2" font-size="14" text-anchor="end" font-weight="bold" textLength="8.1" lengthAdjust="spacingAndGlyphs" >0</text>
<line x1="470.8" y1="1142.6" x2="475" y2="1142.6" stroke="#1d1d1d" stroke-width="2" stroke-linecap="butt"/>
<text x="468.5" y="1147.6" font-size="14" text-anchor="end" font-weight="bold" textLength="8.1" lengthAdjust="spacingAndGlyphs" >5</text>
<line x1="470.8" y1="1107.2" x2="475" y2="1107.2" stroke="#1d1d1d" stroke-width="2" stroke-linecap="butt"/>
<text x="468.5" y="1112.1" font-size="14" text-anchor="end" font-weight="bold" textLength="16.2" lengthAdjust="spacingAndGlyphs" >10</text>
<line x1="470.8" y1="1071.8" x2="475" y2="1071.8" stroke="#1d1d1d" stroke-width="2" stroke-linecap="butt"/>
<text x="468.5" y="1076.6" font-size="14" text-anchor="end" font-weight="bold" textLength="16.2" lengthAdjust="spacingAndGlyphs" >15</text>
<line x1="470.8" y1="1036.4" x2="475" y2="1036.4" stroke="#1d1d1d" stroke-width="2" stroke-linecap="butt"/>
<text x="468.5" y="1041.1" font-size="14" text-anchor="end" font-weight="bold" textLength="16.2" lengthAdjust="spacingAndGlyphs" >20</text>
<line x1="470.8" y1="1001" x2="475" y2="1001" stroke="#1d1d1d" stroke-width="2" stroke-linecap="butt"/>
<text x="468.5" y="1005.6" font-size="14" text-anchor="end" font-weight="bold" textLength="16.2" lengthAdjust="spacingAndGlyphs" >25</text>
<rect x="494.2" y="958.0500000000001" width="15.8" height="9.1" fill="#fff" stroke="#1d1d1d" stroke-width="2"/>
<text x="516.3" y="967.6" font-size="14" text-anchor="start" font-weight="bold" textLength="140" lengthAdjust="spacingAndGlyphs" >CFA + Veh (10 μl/i.t.)</text>
<rect x="494.2" y="976.6500000000001" width="15.8" height="9.1" fill="#b1b3b6" stroke="#1d1d1d" stroke-width="2"/>
<text x="516.3" y="986.2" font-size="14" text-anchor="start" font-weight="bold" textLength="183.5" lengthAdjust="spacingAndGlyphs" >CFA + Δ<tspan font-size="9.5" dy="-5">9</tspan><tspan dy="5">-THC  (10.0 μg/i.t.)</tspan></text>
<line x1="496.8" y1="1075.5" x2="496.8" y2="1094.6" stroke="#1d1d1d" stroke-width="1.8" stroke-linecap="butt"/>
<line x1="489.3" y1="1075.5" x2="504.3" y2="1075.5" stroke="#1d1d1d" stroke-width="1.8" stroke-linecap="butt"/>
<line x1="489.3" y1="1094.6" x2="504.3" y2="1094.6" stroke="#1d1d1d" stroke-width="1.8" stroke-linecap="butt"/>
<line x1="525.8" y1="1060.7" x2="525.8" y2="1101.1" stroke="#1d1d1d" stroke-width="1.8" stroke-linecap="butt"/>
<line x1="518.3" y1="1060.7" x2="533.3" y2="1060.7" stroke="#1d1d1d" stroke-width="1.8" stroke-linecap="butt"/>
<line x1="518.3" y1="1101.1" x2="533.3" y2="1101.1" stroke="#1d1d1d" stroke-width="1.8" stroke-linecap="butt"/>
<line x1="568.8" y1="1068.3" x2="568.8" y2="1096.3" stroke="#1d1d1d" stroke-width="1.8" stroke-linecap="butt"/>
<line x1="561.3" y1="1068.3" x2="576.3" y2="1068.3" stroke="#1d1d1d" stroke-width="1.8" stroke-linecap="butt"/>
<line x1="561.3" y1="1096.3" x2="576.3" y2="1096.3" stroke="#1d1d1d" stroke-width="1.8" stroke-linecap="butt"/>
<line x1="597.9" y1="1065.5" x2="597.9" y2="1100.5" stroke="#1d1d1d" stroke-width="1.8" stroke-linecap="butt"/>
<line x1="590.4" y1="1065.5" x2="605.4" y2="1065.5" stroke="#1d1d1d" stroke-width="1.8" stroke-linecap="butt"/>
<line x1="590.4" y1="1100.5" x2="605.4" y2="1100.5" stroke="#1d1d1d" stroke-width="1.8" stroke-linecap="butt"/>
<line x1="641.1" y1="1131.9" x2="641.1" y2="1140.3" stroke="#1d1d1d" stroke-width="1.8" stroke-linecap="butt"/>
<line x1="633.6" y1="1131.9" x2="648.6" y2="1131.9" stroke="#1d1d1d" stroke-width="1.8" stroke-linecap="butt"/>
<line x1="633.6" y1="1140.3" x2="648.6" y2="1140.3" stroke="#1d1d1d" stroke-width="1.8" stroke-linecap="butt"/>
<line x1="670.3" y1="1065.1" x2="670.3" y2="1084.2" stroke="#1d1d1d" stroke-width="1.8" stroke-linecap="butt"/>
<line x1="662.8" y1="1065.1" x2="677.8" y2="1065.1" stroke="#1d1d1d" stroke-width="1.8" stroke-linecap="butt"/>
<line x1="662.8" y1="1084.2" x2="677.8" y2="1084.2" stroke="#1d1d1d" stroke-width="1.8" stroke-linecap="butt"/>
<line x1="713.4" y1="1141.8" x2="713.4" y2="1149.7" stroke="#1d1d1d" stroke-width="1.8" stroke-linecap="butt"/>
<line x1="705.9" y1="1141.8" x2="720.9" y2="1141.8" stroke="#1d1d1d" stroke-width="1.8" stroke-linecap="butt"/>
<line x1="705.9" y1="1149.7" x2="720.9" y2="1149.7" stroke="#1d1d1d" stroke-width="1.8" stroke-linecap="butt"/>
<line x1="742.4" y1="1135" x2="742.4" y2="1140.1" stroke="#1d1d1d" stroke-width="1.8" stroke-linecap="butt"/>
<line x1="734.9" y1="1135" x2="749.9" y2="1135" stroke="#1d1d1d" stroke-width="1.8" stroke-linecap="butt"/>
<line x1="734.9" y1="1140.1" x2="749.9" y2="1140.1" stroke="#1d1d1d" stroke-width="1.8" stroke-linecap="butt"/>
<circle cx="496.8" cy="1054.3" r="2.6" fill="#1d1d1d"/>
<circle cx="496.8" cy="1061.9" r="2.6" fill="#1d1d1d"/>
<circle cx="499.3" cy="1086.3" r="2.6" fill="#1d1d1d"/>
<circle cx="493.6" cy="1089.3" r="2.6" fill="#1d1d1d"/>
<circle cx="496.8" cy="1101.6" r="2.6" fill="#1d1d1d"/>
<circle cx="496.8" cy="1116.8" r="2.6" fill="#1d1d1d"/>
<circle cx="525.8" cy="1073.6" r="2.6" fill="#1d1d1d"/>
<circle cx="525.8" cy="1087.8" r="2.6" fill="#1d1d1d"/>
<circle cx="525.8" cy="1102.2" r="2.6" fill="#1d1d1d"/>
<circle cx="519.7" cy="1112.2" r="2.6" fill="#1d1d1d"/>
<circle cx="525.8" cy="1113.6" r="2.6" fill="#1d1d1d"/>
<circle cx="531.8" cy="1112.8" r="2.6" fill="#1d1d1d"/>
<circle cx="568.8" cy="1036.9" r="2.6" fill="#1d1d1d"/>
<circle cx="568.8" cy="1060.2" r="2.6" fill="#1d1d1d"/>
<circle cx="568.8" cy="1067.7" r="2.6" fill="#1d1d1d"/>
<circle cx="568.8" cy="1086.7" r="2.6" fill="#1d1d1d"/>
<circle cx="568.8" cy="1113.2" r="2.6" fill="#1d1d1d"/>
<circle cx="568.8" cy="1130.2" r="2.6" fill="#1d1d1d"/>
<circle cx="597.9" cy="1007.3" r="2.6" fill="#1d1d1d"/>
<circle cx="597.9" cy="1030.6" r="2.6" fill="#1d1d1d"/>
<circle cx="600.6" cy="1087.4" r="2.6" fill="#1d1d1d"/>
<circle cx="594.7" cy="1093.5" r="2.6" fill="#1d1d1d"/>
<circle cx="597.9" cy="1114.9" r="2.6" fill="#1d1d1d"/>
<circle cx="594.7" cy="1125.9" r="2.6" fill="#1d1d1d"/>
<circle cx="600.6" cy="1123.4" r="2.6" fill="#1d1d1d"/>
<circle cx="641.1" cy="1121.3" r="2.6" fill="#1d1d1d"/>
<circle cx="641.1" cy="1130.2" r="2.6" fill="#1d1d1d"/>
<circle cx="638.1" cy="1135.9" r="2.6" fill="#1d1d1d"/>
<circle cx="647" cy="1139.1" r="2.6" fill="#1d1d1d"/>
<circle cx="643.8" cy="1142.9" r="2.6" fill="#1d1d1d"/>
<circle cx="638.1" cy="1147.8" r="2.6" fill="#1d1d1d"/>
<circle cx="670.3" cy="1042.2" r="2.6" fill="#1d1d1d"/>
<circle cx="670.3" cy="1048.6" r="2.6" fill="#1d1d1d"/>
<circle cx="670.3" cy="1065.1" r="2.6" fill="#1d1d1d"/>
<circle cx="667.2" cy="1078.2" r="2.6" fill="#1d1d1d"/>
<circle cx="673.1" cy="1077.2" r="2.6" fill="#1d1d1d"/>
<circle cx="670.3" cy="1091.4" r="2.6" fill="#1d1d1d"/>
<circle cx="670.3" cy="1119.6" r="2.6" fill="#1d1d1d"/>
<circle cx="714.2" cy="1133.8" r="2.6" fill="#1d1d1d"/>
<circle cx="710.6" cy="1136.5" r="2.6" fill="#1d1d1d"/>
<circle cx="713.4" cy="1145.6" r="2.6" fill="#1d1d1d"/>
<circle cx="707.4" cy="1152.4" r="2.6" fill="#1d1d1d"/>
<circle cx="719.7" cy="1152.4" r="2.6" fill="#1d1d1d"/>
<circle cx="713.4" cy="1157.1" r="2.6" fill="#1d1d1d"/>
<circle cx="731.2" cy="1129.5" r="2.6" fill="#1d1d1d"/>
<circle cx="737.5" cy="1131.2" r="2.6" fill="#1d1d1d"/>
<circle cx="742.4" cy="1132.7" r="2.6" fill="#1d1d1d"/>
<circle cx="748.1" cy="1130.6" r="2.6" fill="#1d1d1d"/>
<circle cx="753.6" cy="1128.7" r="2.6" fill="#1d1d1d"/>
<circle cx="739.2" cy="1152.4" r="2.6" fill="#1d1d1d"/>
<circle cx="745.6" cy="1149.2" r="2.6" fill="#1d1d1d"/>
<line x1="626.3" y1="1022.1" x2="682" y2="1022.1" stroke="#1d1d1d" stroke-width="2" stroke-linecap="butt"/>
<line x1="698.5" y1="1096.7" x2="753.6" y2="1096.7" stroke="#1d1d1d" stroke-width="2" stroke-linecap="butt"/>
<text x="510.5" y="1194" font-size="14" text-anchor="middle" font-weight="bold" >WT</text>
<text x="583" y="1194" font-size="14" text-anchor="middle" font-weight="bold" textLength="74" lengthAdjust="spacingAndGlyphs" >Cav3.2 null</text>
<text x="654" y="1194" font-size="14" text-anchor="middle" font-weight="bold" >WT</text>
<text x="730" y="1194" font-size="14" text-anchor="middle" font-weight="bold" textLength="74" lengthAdjust="spacingAndGlyphs" >Cav3.2 null</text>
<line x1="484" y1="1201.2" x2="613.7" y2="1201.2" stroke="#1d1d1d" stroke-width="1.7" stroke-linecap="butt"/>
<line x1="627.6" y1="1201.2" x2="757" y2="1201.2" stroke="#1d1d1d" stroke-width="1.7" stroke-linecap="butt"/>
<text x="556.7" y="1216.8" font-size="14.6" text-anchor="middle" font-weight="bold" textLength="56" lengthAdjust="spacingAndGlyphs" >Baseline</text>
<text x="692.5" y="1216.8" font-size="14.6" text-anchor="middle" font-weight="bold" textLength="110" lengthAdjust="spacingAndGlyphs" >CFA + treatment</text>
<text x="692.5" y="1232" font-size="14.6" text-anchor="middle" font-weight="bold" textLength="86" lengthAdjust="spacingAndGlyphs" >(at t=45 min)</text>
<text x="439" y="1075.3" font-size="15" text-anchor="middle" font-weight="bold" class="rt" transform="rotate(-90 439 1075.3)" textLength="231" lengthAdjust="spacingAndGlyphs" >Thermal Withdrawal Latency (sec)</text>
<path d="M642.88 1016.6L642.39 1019.83L644.21 1019.83L643.72 1016.6ZM643.72 1016.6L644.21 1013.37L642.39 1013.37L642.88 1016.6ZM643.09 1016.96L645.48 1018.91L646.39 1017.33L643.51 1016.24ZM643.09 1016.24L640.21 1017.33L641.12 1018.91L643.51 1016.96ZM643.51 1016.24L641.12 1014.29L640.21 1015.87L643.09 1016.96ZM643.51 1016.96L646.39 1015.87L645.48 1014.29L643.09 1016.24Z" fill="#1d1d1d"/>
<circle cx="643.3" cy="1016.6" r="0.76" fill="#1d1d1d"/>
<path d="M650.88 1016.6L650.39 1019.83L652.21 1019.83L651.72 1016.6ZM651.72 1016.6L652.21 1013.37L650.39 1013.37L650.88 1016.6ZM651.09 1016.96L653.48 1018.91L654.39 1017.33L651.51 1016.24ZM651.09 1016.24L648.21 1017.33L649.12 1018.91L651.51 1016.96ZM651.51 1016.24L649.12 1014.29L648.21 1015.87L651.09 1016.96ZM651.51 1016.96L654.39 1015.87L653.48 1014.29L651.09 1016.24Z" fill="#1d1d1d"/>
<circle cx="651.3" cy="1016.6" r="0.76" fill="#1d1d1d"/>
<path d="M658.88 1016.6L658.39 1019.83L660.21 1019.83L659.72 1016.6ZM659.72 1016.6L660.21 1013.37L658.39 1013.37L658.88 1016.6ZM659.09 1016.96L661.48 1018.91L662.39 1017.33L659.51 1016.24ZM659.09 1016.24L656.21 1017.33L657.12 1018.91L659.51 1016.96ZM659.51 1016.24L657.12 1014.29L656.21 1015.87L659.09 1016.96ZM659.51 1016.96L662.39 1015.87L661.48 1014.29L659.09 1016.24Z" fill="#1d1d1d"/>
<circle cx="659.3" cy="1016.6" r="0.76" fill="#1d1d1d"/>
<path d="M666.88 1016.6L666.39 1019.83L668.21 1019.83L667.72 1016.6ZM667.72 1016.6L668.21 1013.37L666.39 1013.37L666.88 1016.6ZM667.09 1016.96L669.48 1018.91L670.39 1017.33L667.51 1016.24ZM667.09 1016.24L664.21 1017.33L665.12 1018.91L667.51 1016.96ZM667.51 1016.24L665.12 1014.29L664.21 1015.87L667.09 1016.96ZM667.51 1016.96L670.39 1015.87L669.48 1014.29L667.09 1016.24Z" fill="#1d1d1d"/>
<circle cx="667.3" cy="1016.6" r="0.76" fill="#1d1d1d"/>
<text x="728.4" y="1092" font-size="14.5" text-anchor="middle" font-weight="bold" textLength="15.5" lengthAdjust="spacingAndGlyphs" >ns</text>
</g>
</svg>
</body></html>
